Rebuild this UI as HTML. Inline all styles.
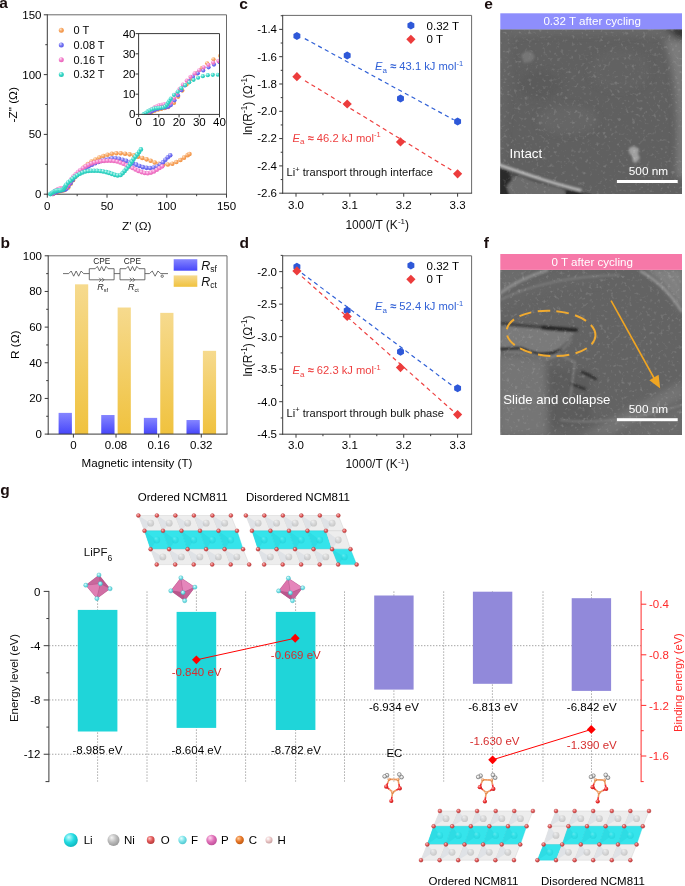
<!DOCTYPE html>
<html><head><meta charset="utf-8"><title>Figure</title><style>html,body{margin:0;padding:0;background:#fff;width:685px;height:886px;overflow:hidden;}svg{display:block;font-family:"Liberation Sans",sans-serif;will-change:transform;}</style></head><body>
<svg width="685" height="886" viewBox="0 0 685 886" font-family="'Liberation Sans', sans-serif"><defs><radialGradient id="gO" cx="0.4" cy="0.35" r="0.65" fx="0.35" fy="0.3"><stop offset="0" stop-color="#fde6cc"/><stop offset="0.55" stop-color="#f7a35e"/><stop offset="1" stop-color="#ef9040"/></radialGradient><radialGradient id="gB" cx="0.4" cy="0.35" r="0.65" fx="0.35" fy="0.3"><stop offset="0" stop-color="#d8d8ff"/><stop offset="0.55" stop-color="#7474f2"/><stop offset="1" stop-color="#5a5ae8"/></radialGradient><radialGradient id="gP" cx="0.4" cy="0.35" r="0.65" fx="0.35" fy="0.3"><stop offset="0" stop-color="#ffe0f4"/><stop offset="0.55" stop-color="#f27ccb"/><stop offset="1" stop-color="#e865b8"/></radialGradient><radialGradient id="gC" cx="0.4" cy="0.35" r="0.65" fx="0.35" fy="0.3"><stop offset="0" stop-color="#d0fbf6"/><stop offset="0.55" stop-color="#3ad8c8"/><stop offset="1" stop-color="#22c4b4"/></radialGradient><clipPath id="clipI"><rect x="138.6" y="33.6" width="80.9" height="80.8"/></clipPath><linearGradient id="gbB" x1="0" y1="0" x2="0" y2="1"><stop offset="0" stop-color="#8585ff"/><stop offset="1" stop-color="#4646fa"/></linearGradient><linearGradient id="gbY" x1="0" y1="0" x2="0" y2="1"><stop offset="0" stop-color="#f6da8e"/><stop offset="1" stop-color="#f0c23e"/></linearGradient><filter id="noise" x="0" y="0" width="100%" height="100%"><feTurbulence type="fractalNoise" baseFrequency="0.28" numOctaves="2" seed="7" result="t"/><feColorMatrix type="matrix" values="0 0 0 0 1  0 0 0 0 1  0 0 0 0 1  4.0 0 0 0 -2.3" /><feGaussianBlur stdDeviation="0.7"/></filter><filter id="blur1"><feGaussianBlur stdDeviation="1.2"/></filter><filter id="blur3"><feGaussianBlur stdDeviation="3"/></filter><clipPath id="clipE"><rect x="500.3" y="29.3" width="181.7" height="164.8"/></clipPath><clipPath id="clipF"><rect x="500.3" y="269.9" width="181.7" height="165.1"/></clipPath><radialGradient id="aLi" cx="0.4" cy="0.35" r="0.65" fx="0.35" fy="0.3"><stop offset="0" stop-color="#c8fbfd"/><stop offset="0.55" stop-color="#22dbe2"/><stop offset="1" stop-color="#10b8c0"/></radialGradient><radialGradient id="aNi" cx="0.4" cy="0.35" r="0.65" fx="0.35" fy="0.3"><stop offset="0" stop-color="#f4f4f4"/><stop offset="0.55" stop-color="#bdbdbd"/><stop offset="1" stop-color="#9a9a9a"/></radialGradient><radialGradient id="aO" cx="0.4" cy="0.35" r="0.65" fx="0.35" fy="0.3"><stop offset="0" stop-color="#ffc8c8"/><stop offset="0.55" stop-color="#e25a5a"/><stop offset="1" stop-color="#b83a3a"/></radialGradient><radialGradient id="aF" cx="0.4" cy="0.35" r="0.65" fx="0.35" fy="0.3"><stop offset="0" stop-color="#e8ffff"/><stop offset="0.55" stop-color="#7ee4ea"/><stop offset="1" stop-color="#50c8d0"/></radialGradient><radialGradient id="aP" cx="0.4" cy="0.35" r="0.65" fx="0.35" fy="0.3"><stop offset="0" stop-color="#ffd8f0"/><stop offset="0.55" stop-color="#e070b8"/><stop offset="1" stop-color="#c0509a"/></radialGradient><radialGradient id="aC" cx="0.4" cy="0.35" r="0.65" fx="0.35" fy="0.3"><stop offset="0" stop-color="#ffd0a0"/><stop offset="0.55" stop-color="#e8782a"/><stop offset="1" stop-color="#c05a10"/></radialGradient><radialGradient id="aH" cx="0.4" cy="0.35" r="0.65" fx="0.35" fy="0.3"><stop offset="0" stop-color="#ffffff"/><stop offset="0.55" stop-color="#ecc8c8"/><stop offset="1" stop-color="#c8a0a0"/></radialGradient><radialGradient id="aOr" cx="0.4" cy="0.35" r="0.65" fx="0.35" fy="0.3"><stop offset="0" stop-color="#ffb0b0"/><stop offset="0.55" stop-color="#ee3030"/><stop offset="1" stop-color="#c01818"/></radialGradient><radialGradient id="aCe" cx="0.4" cy="0.35" r="0.65" fx="0.35" fy="0.3"><stop offset="0" stop-color="#ffe0c8"/><stop offset="0.55" stop-color="#ee9a60"/><stop offset="1" stop-color="#d07838"/></radialGradient><radialGradient id="aHe" cx="0.4" cy="0.35" r="0.65" fx="0.35" fy="0.3"><stop offset="0" stop-color="#ffffff"/><stop offset="0.55" stop-color="#e0e0e0"/><stop offset="1" stop-color="#a8a8a8"/></radialGradient></defs><text x="-0.8" y="8.3" font-size="15.5" fill="#1a0e0e" font-weight="bold">a</text>
<line x1="47.3" y1="14.8" x2="226.5" y2="14.8" stroke="#6a6a6a" stroke-width="1"/>
<line x1="226.5" y1="14.8" x2="226.5" y2="194.2" stroke="#6a6a6a" stroke-width="1"/>
<line x1="47.3" y1="14.3" x2="47.3" y2="194.7" stroke="#3a3a3a" stroke-width="1"/>
<line x1="46.8" y1="194.2" x2="227" y2="194.2" stroke="#3a3a3a" stroke-width="1"/>
<line x1="47.3" y1="194.2" x2="47.3" y2="197.7" stroke="#3a3a3a" stroke-width="1"/>
<line x1="107.03" y1="194.2" x2="107.03" y2="197.7" stroke="#3a3a3a" stroke-width="1"/>
<line x1="166.77" y1="194.2" x2="166.77" y2="197.7" stroke="#3a3a3a" stroke-width="1"/>
<line x1="226.5" y1="194.2" x2="226.5" y2="197.7" stroke="#3a3a3a" stroke-width="1"/>
<line x1="77.17" y1="194.2" x2="77.17" y2="196.2" stroke="#3a3a3a" stroke-width="1"/>
<line x1="136.9" y1="194.2" x2="136.9" y2="196.2" stroke="#3a3a3a" stroke-width="1"/>
<line x1="196.63" y1="194.2" x2="196.63" y2="196.2" stroke="#3a3a3a" stroke-width="1"/>
<text x="47.3" y="210.2" font-size="11.5" text-anchor="middle">0</text>
<text x="107.03" y="210.2" font-size="11.5" text-anchor="middle">50</text>
<text x="166.77" y="210.2" font-size="11.5" text-anchor="middle">100</text>
<text x="226.5" y="210.2" font-size="11.5" text-anchor="middle">150</text>
<line x1="43.8" y1="194.2" x2="47.3" y2="194.2" stroke="#3a3a3a" stroke-width="1"/>
<line x1="43.8" y1="134.4" x2="47.3" y2="134.4" stroke="#3a3a3a" stroke-width="1"/>
<line x1="43.8" y1="74.6" x2="47.3" y2="74.6" stroke="#3a3a3a" stroke-width="1"/>
<line x1="43.8" y1="14.8" x2="47.3" y2="14.8" stroke="#3a3a3a" stroke-width="1"/>
<line x1="45.3" y1="164.3" x2="47.3" y2="164.3" stroke="#3a3a3a" stroke-width="1"/>
<line x1="45.3" y1="104.5" x2="47.3" y2="104.5" stroke="#3a3a3a" stroke-width="1"/>
<line x1="45.3" y1="44.7" x2="47.3" y2="44.7" stroke="#3a3a3a" stroke-width="1"/>
<text x="41.5" y="198.1" font-size="11.5" text-anchor="end">0</text>
<text x="41.5" y="138.3" font-size="11.5" text-anchor="end">50</text>
<text x="41.5" y="78.5" font-size="11.5" text-anchor="end">100</text>
<text x="41.5" y="18.7" font-size="11.5" text-anchor="end">150</text>
<text x="136.8" y="229.5" font-size="11.8" text-anchor="middle">Z' (&#937;)</text>
<text x="16.9" y="104.8" font-size="11.8" text-anchor="middle" transform="rotate(-90 16.9 104.8)">-Z&quot; (&#937;)</text>
<circle cx="53.27" cy="193.84" r="2.3" fill="url(#gO)"/>
<circle cx="54.97" cy="192.87" r="2.3" fill="url(#gO)"/>
<circle cx="56.81" cy="192.06" r="2.3" fill="url(#gO)"/>
<circle cx="58.8" cy="191.41" r="2.3" fill="url(#gO)"/>
<circle cx="60.73" cy="190.94" r="2.3" fill="url(#gO)"/>
<circle cx="62.77" cy="190.45" r="2.3" fill="url(#gO)"/>
<circle cx="64.74" cy="189.89" r="2.3" fill="url(#gO)"/>
<circle cx="68.22" cy="187.39" r="2.3" fill="url(#gO)"/>
<circle cx="70.68" cy="183.79" r="2.3" fill="url(#gO)"/>
<circle cx="73.16" cy="180.11" r="2.3" fill="url(#gO)"/>
<circle cx="75.63" cy="176.54" r="2.3" fill="url(#gO)"/>
<circle cx="78.48" cy="173.06" r="2.3" fill="url(#gO)"/>
<circle cx="81.55" cy="169.95" r="2.3" fill="url(#gO)"/>
<circle cx="84.62" cy="166.85" r="2.3" fill="url(#gO)"/>
<circle cx="87.8" cy="163.95" r="2.3" fill="url(#gO)"/>
<circle cx="91.54" cy="161.56" r="2.3" fill="url(#gO)"/>
<circle cx="95.45" cy="159.5" r="2.3" fill="url(#gO)"/>
<circle cx="99.36" cy="157.59" r="2.3" fill="url(#gO)"/>
<circle cx="103.37" cy="155.98" r="2.3" fill="url(#gO)"/>
<circle cx="107.56" cy="154.72" r="2.3" fill="url(#gO)"/>
<circle cx="111.83" cy="153.81" r="2.3" fill="url(#gO)"/>
<circle cx="116.31" cy="153.32" r="2.3" fill="url(#gO)"/>
<circle cx="120.68" cy="153.24" r="2.3" fill="url(#gO)"/>
<circle cx="125.08" cy="153.68" r="2.3" fill="url(#gO)"/>
<circle cx="129.56" cy="154.35" r="2.3" fill="url(#gO)"/>
<circle cx="133.91" cy="155.26" r="2.3" fill="url(#gO)"/>
<circle cx="138.09" cy="156.65" r="2.3" fill="url(#gO)"/>
<circle cx="142.29" cy="157.93" r="2.3" fill="url(#gO)"/>
<circle cx="146.55" cy="159.34" r="2.3" fill="url(#gO)"/>
<circle cx="150.63" cy="160.81" r="2.3" fill="url(#gO)"/>
<circle cx="154.72" cy="162.55" r="2.3" fill="url(#gO)"/>
<circle cx="158.94" cy="163.78" r="2.3" fill="url(#gO)"/>
<circle cx="163.39" cy="164.54" r="2.3" fill="url(#gO)"/>
<circle cx="167.84" cy="164.55" r="2.3" fill="url(#gO)"/>
<circle cx="172.31" cy="163.69" r="2.3" fill="url(#gO)"/>
<circle cx="176.35" cy="162.04" r="2.3" fill="url(#gO)"/>
<circle cx="180.4" cy="160.05" r="2.3" fill="url(#gO)"/>
<circle cx="184.04" cy="157.66" r="2.3" fill="url(#gO)"/>
<circle cx="187.65" cy="155.17" r="2.3" fill="url(#gO)"/>
<circle cx="189.47" cy="154.01" r="2.3" fill="url(#gO)"/>
<circle cx="52.68" cy="193.84" r="2.3" fill="url(#gB)"/>
<circle cx="54.09" cy="192.96" r="2.3" fill="url(#gB)"/>
<circle cx="55.48" cy="192.2" r="2.3" fill="url(#gB)"/>
<circle cx="56.98" cy="191.5" r="2.3" fill="url(#gB)"/>
<circle cx="58.5" cy="190.95" r="2.3" fill="url(#gB)"/>
<circle cx="60.14" cy="190.55" r="2.3" fill="url(#gB)"/>
<circle cx="61.8" cy="190.25" r="2.3" fill="url(#gB)"/>
<circle cx="63.48" cy="190.02" r="2.3" fill="url(#gB)"/>
<circle cx="64.97" cy="189.55" r="2.3" fill="url(#gB)"/>
<circle cx="66.36" cy="188.66" r="2.3" fill="url(#gB)"/>
<circle cx="68.52" cy="185.85" r="2.3" fill="url(#gB)"/>
<circle cx="70.55" cy="182.93" r="2.3" fill="url(#gB)"/>
<circle cx="72.55" cy="179.91" r="2.3" fill="url(#gB)"/>
<circle cx="74.58" cy="177.1" r="2.3" fill="url(#gB)"/>
<circle cx="76.87" cy="174.37" r="2.3" fill="url(#gB)"/>
<circle cx="79.41" cy="171.84" r="2.3" fill="url(#gB)"/>
<circle cx="82.26" cy="169.85" r="2.3" fill="url(#gB)"/>
<circle cx="85.48" cy="168.19" r="2.3" fill="url(#gB)"/>
<circle cx="88.64" cy="166.33" r="2.3" fill="url(#gB)"/>
<circle cx="91.82" cy="164.71" r="2.3" fill="url(#gB)"/>
<circle cx="95.09" cy="163.32" r="2.3" fill="url(#gB)"/>
<circle cx="98.32" cy="162.06" r="2.3" fill="url(#gB)"/>
<circle cx="101.63" cy="160.83" r="2.3" fill="url(#gB)"/>
<circle cx="104.95" cy="159.8" r="2.3" fill="url(#gB)"/>
<circle cx="108.55" cy="158.96" r="2.3" fill="url(#gB)"/>
<circle cx="111.98" cy="158.39" r="2.3" fill="url(#gB)"/>
<circle cx="115.58" cy="158.23" r="2.3" fill="url(#gB)"/>
<circle cx="119.01" cy="158.78" r="2.3" fill="url(#gB)"/>
<circle cx="122.62" cy="159.73" r="2.3" fill="url(#gB)"/>
<circle cx="126.1" cy="160.83" r="2.3" fill="url(#gB)"/>
<circle cx="129.52" cy="162.04" r="2.3" fill="url(#gB)"/>
<circle cx="132.94" cy="163.36" r="2.3" fill="url(#gB)"/>
<circle cx="136.26" cy="164.67" r="2.3" fill="url(#gB)"/>
<circle cx="139.51" cy="165.93" r="2.3" fill="url(#gB)"/>
<circle cx="142.85" cy="167.14" r="2.3" fill="url(#gB)"/>
<circle cx="146.52" cy="167.84" r="2.3" fill="url(#gB)"/>
<circle cx="150.05" cy="168.03" r="2.3" fill="url(#gB)"/>
<circle cx="153.64" cy="167.56" r="2.3" fill="url(#gB)"/>
<circle cx="157.13" cy="166.48" r="2.3" fill="url(#gB)"/>
<circle cx="160.24" cy="164.6" r="2.3" fill="url(#gB)"/>
<circle cx="162.95" cy="162.35" r="2.3" fill="url(#gB)"/>
<circle cx="165.36" cy="159.78" r="2.3" fill="url(#gB)"/>
<circle cx="167.83" cy="157.24" r="2.3" fill="url(#gB)"/>
<circle cx="170.23" cy="155.21" r="2.3" fill="url(#gB)"/>
<circle cx="52.08" cy="193.84" r="2.3" fill="url(#gP)"/>
<circle cx="53.12" cy="192.8" r="2.3" fill="url(#gP)"/>
<circle cx="54.22" cy="191.78" r="2.3" fill="url(#gP)"/>
<circle cx="55.42" cy="190.87" r="2.3" fill="url(#gP)"/>
<circle cx="56.74" cy="190.08" r="2.3" fill="url(#gP)"/>
<circle cx="58.05" cy="189.42" r="2.3" fill="url(#gP)"/>
<circle cx="59.37" cy="188.9" r="2.3" fill="url(#gP)"/>
<circle cx="60.8" cy="188.5" r="2.3" fill="url(#gP)"/>
<circle cx="62.24" cy="188.27" r="2.3" fill="url(#gP)"/>
<circle cx="63.68" cy="188.17" r="2.3" fill="url(#gP)"/>
<circle cx="65.15" cy="187.8" r="2.3" fill="url(#gP)"/>
<circle cx="66.36" cy="187.1" r="2.3" fill="url(#gP)"/>
<circle cx="68.27" cy="184.49" r="2.3" fill="url(#gP)"/>
<circle cx="69.93" cy="181.77" r="2.3" fill="url(#gP)"/>
<circle cx="71.55" cy="179.07" r="2.3" fill="url(#gP)"/>
<circle cx="73.46" cy="176.57" r="2.3" fill="url(#gP)"/>
<circle cx="75.73" cy="174.23" r="2.3" fill="url(#gP)"/>
<circle cx="77.96" cy="171.94" r="2.3" fill="url(#gP)"/>
<circle cx="80.41" cy="169.95" r="2.3" fill="url(#gP)"/>
<circle cx="83.11" cy="168.06" r="2.3" fill="url(#gP)"/>
<circle cx="85.76" cy="166.34" r="2.3" fill="url(#gP)"/>
<circle cx="88.53" cy="164.83" r="2.3" fill="url(#gP)"/>
<circle cx="91.36" cy="163.51" r="2.3" fill="url(#gP)"/>
<circle cx="94.42" cy="162.51" r="2.3" fill="url(#gP)"/>
<circle cx="97.51" cy="161.77" r="2.3" fill="url(#gP)"/>
<circle cx="100.73" cy="161.23" r="2.3" fill="url(#gP)"/>
<circle cx="104.04" cy="160.88" r="2.3" fill="url(#gP)"/>
<circle cx="107.33" cy="160.69" r="2.3" fill="url(#gP)"/>
<circle cx="110.62" cy="160.71" r="2.3" fill="url(#gP)"/>
<circle cx="113.92" cy="160.98" r="2.3" fill="url(#gP)"/>
<circle cx="117.17" cy="161.57" r="2.3" fill="url(#gP)"/>
<circle cx="120.34" cy="162.57" r="2.3" fill="url(#gP)"/>
<circle cx="123.45" cy="163.82" r="2.3" fill="url(#gP)"/>
<circle cx="126.51" cy="165.29" r="2.3" fill="url(#gP)"/>
<circle cx="129.46" cy="166.66" r="2.3" fill="url(#gP)"/>
<circle cx="132.6" cy="168.07" r="2.3" fill="url(#gP)"/>
<circle cx="135.53" cy="169.46" r="2.3" fill="url(#gP)"/>
<circle cx="138.46" cy="170.9" r="2.3" fill="url(#gP)"/>
<circle cx="141.57" cy="172.11" r="2.3" fill="url(#gP)"/>
<circle cx="144.59" cy="172.95" r="2.3" fill="url(#gP)"/>
<circle cx="147.75" cy="173.3" r="2.3" fill="url(#gP)"/>
<circle cx="150.93" cy="172.59" r="2.3" fill="url(#gP)"/>
<circle cx="153.86" cy="171.48" r="2.3" fill="url(#gP)"/>
<circle cx="156.76" cy="169.78" r="2.3" fill="url(#gP)"/>
<circle cx="159.44" cy="168.04" r="2.3" fill="url(#gP)"/>
<circle cx="162.2" cy="166.33" r="2.3" fill="url(#gP)"/>
<circle cx="50.29" cy="194.08" r="2.3" fill="url(#gC)"/>
<circle cx="51.48" cy="193.22" r="2.3" fill="url(#gC)"/>
<circle cx="52.69" cy="192.45" r="2.3" fill="url(#gC)"/>
<circle cx="53.86" cy="191.78" r="2.3" fill="url(#gC)"/>
<circle cx="55.15" cy="191.16" r="2.3" fill="url(#gC)"/>
<circle cx="56.4" cy="190.77" r="2.3" fill="url(#gC)"/>
<circle cx="57.82" cy="190.5" r="2.3" fill="url(#gC)"/>
<circle cx="59.16" cy="190.3" r="2.3" fill="url(#gC)"/>
<circle cx="60.48" cy="190.14" r="2.3" fill="url(#gC)"/>
<circle cx="61.87" cy="190.01" r="2.3" fill="url(#gC)"/>
<circle cx="63.1" cy="189.43" r="2.3" fill="url(#gC)"/>
<circle cx="64.04" cy="188.43" r="2.3" fill="url(#gC)"/>
<circle cx="64.84" cy="187.28" r="2.3" fill="url(#gC)"/>
<circle cx="65.51" cy="186.12" r="2.3" fill="url(#gC)"/>
<circle cx="66.3" cy="184.87" r="2.3" fill="url(#gC)"/>
<circle cx="68.21" cy="182.6" r="2.3" fill="url(#gC)"/>
<circle cx="70.46" cy="180.72" r="2.3" fill="url(#gC)"/>
<circle cx="72.55" cy="178.68" r="2.3" fill="url(#gC)"/>
<circle cx="74.83" cy="176.86" r="2.3" fill="url(#gC)"/>
<circle cx="77.22" cy="175.24" r="2.3" fill="url(#gC)"/>
<circle cx="79.76" cy="173.71" r="2.3" fill="url(#gC)"/>
<circle cx="82.45" cy="172.49" r="2.3" fill="url(#gC)"/>
<circle cx="85.23" cy="171.55" r="2.3" fill="url(#gC)"/>
<circle cx="88.16" cy="170.98" r="2.3" fill="url(#gC)"/>
<circle cx="91.12" cy="170.78" r="2.3" fill="url(#gC)"/>
<circle cx="94.09" cy="170.73" r="2.3" fill="url(#gC)"/>
<circle cx="97.12" cy="170.81" r="2.3" fill="url(#gC)"/>
<circle cx="100.2" cy="171.01" r="2.3" fill="url(#gC)"/>
<circle cx="103.15" cy="171.46" r="2.3" fill="url(#gC)"/>
<circle cx="106.2" cy="172.11" r="2.3" fill="url(#gC)"/>
<circle cx="109.03" cy="172.92" r="2.3" fill="url(#gC)"/>
<circle cx="111.81" cy="173.87" r="2.3" fill="url(#gC)"/>
<circle cx="114.74" cy="174.86" r="2.3" fill="url(#gC)"/>
<circle cx="117.64" cy="175.44" r="2.3" fill="url(#gC)"/>
<circle cx="120.53" cy="175.06" r="2.3" fill="url(#gC)"/>
<circle cx="122.71" cy="173.11" r="2.3" fill="url(#gC)"/>
<circle cx="124.64" cy="170.9" r="2.3" fill="url(#gC)"/>
<circle cx="126.55" cy="168.69" r="2.3" fill="url(#gC)"/>
<circle cx="128.46" cy="166.28" r="2.3" fill="url(#gC)"/>
<circle cx="130.21" cy="163.91" r="2.3" fill="url(#gC)"/>
<circle cx="131.96" cy="161.39" r="2.3" fill="url(#gC)"/>
<circle cx="133.56" cy="158.97" r="2.3" fill="url(#gC)"/>
<circle cx="135.38" cy="156.67" r="2.3" fill="url(#gC)"/>
<circle cx="137.32" cy="154.36" r="2.3" fill="url(#gC)"/>
<circle cx="139.09" cy="151.94" r="2.3" fill="url(#gC)"/>
<circle cx="140.87" cy="149.41" r="2.3" fill="url(#gC)"/>
<circle cx="61.3" cy="30.3" r="2.5" fill="url(#gO)"/>
<text x="73.6" y="34.3" font-size="11">0 T</text>
<circle cx="61.3" cy="45" r="2.5" fill="url(#gB)"/>
<text x="73.6" y="49" font-size="11">0.08 T</text>
<circle cx="61.3" cy="59.7" r="2.5" fill="url(#gP)"/>
<text x="73.6" y="63.7" font-size="11">0.16 T</text>
<circle cx="61.3" cy="74.4" r="2.5" fill="url(#gC)"/>
<text x="73.6" y="78.4" font-size="11">0.32 T</text>
<rect x="138.6" y="33.6" width="80.9" height="80.8" fill="#fff"/>
<g clip-path="url(#clipI)">
<circle cx="148.71" cy="113.79" r="2.1" fill="url(#gO)"/>
<circle cx="151.58" cy="112.15" r="2.1" fill="url(#gO)"/>
<circle cx="154.71" cy="110.79" r="2.1" fill="url(#gO)"/>
<circle cx="158.07" cy="109.68" r="2.1" fill="url(#gO)"/>
<circle cx="161.34" cy="108.9" r="2.1" fill="url(#gO)"/>
<circle cx="164.79" cy="108.07" r="2.1" fill="url(#gO)"/>
<circle cx="168.13" cy="107.13" r="2.1" fill="url(#gO)"/>
<circle cx="174.02" cy="102.9" r="2.1" fill="url(#gO)"/>
<circle cx="178.18" cy="96.83" r="2.1" fill="url(#gO)"/>
<circle cx="182.37" cy="90.6" r="2.1" fill="url(#gO)"/>
<circle cx="186.57" cy="84.57" r="2.1" fill="url(#gO)"/>
<circle cx="191.39" cy="78.7" r="2.1" fill="url(#gO)"/>
<circle cx="196.58" cy="73.44" r="2.1" fill="url(#gO)"/>
<circle cx="201.77" cy="68.21" r="2.1" fill="url(#gO)"/>
<circle cx="207.16" cy="63.31" r="2.1" fill="url(#gO)"/>
<circle cx="213.5" cy="59.27" r="2.1" fill="url(#gO)"/>
<circle cx="220.12" cy="55.8" r="2.1" fill="url(#gO)"/>
<circle cx="147.7" cy="113.79" r="2.1" fill="url(#gB)"/>
<circle cx="150.09" cy="112.3" r="2.1" fill="url(#gB)"/>
<circle cx="152.45" cy="111.02" r="2.1" fill="url(#gB)"/>
<circle cx="154.99" cy="109.84" r="2.1" fill="url(#gB)"/>
<circle cx="157.56" cy="108.91" r="2.1" fill="url(#gB)"/>
<circle cx="160.34" cy="108.24" r="2.1" fill="url(#gB)"/>
<circle cx="163.16" cy="107.73" r="2.1" fill="url(#gB)"/>
<circle cx="165.99" cy="107.35" r="2.1" fill="url(#gB)"/>
<circle cx="168.51" cy="106.55" r="2.1" fill="url(#gB)"/>
<circle cx="170.87" cy="105.03" r="2.1" fill="url(#gB)"/>
<circle cx="174.52" cy="100.3" r="2.1" fill="url(#gB)"/>
<circle cx="177.97" cy="95.36" r="2.1" fill="url(#gB)"/>
<circle cx="181.35" cy="90.27" r="2.1" fill="url(#gB)"/>
<circle cx="184.79" cy="85.51" r="2.1" fill="url(#gB)"/>
<circle cx="188.66" cy="80.91" r="2.1" fill="url(#gB)"/>
<circle cx="192.95" cy="76.64" r="2.1" fill="url(#gB)"/>
<circle cx="197.78" cy="73.28" r="2.1" fill="url(#gB)"/>
<circle cx="203.24" cy="70.47" r="2.1" fill="url(#gB)"/>
<circle cx="208.58" cy="67.33" r="2.1" fill="url(#gB)"/>
<circle cx="213.96" cy="64.6" r="2.1" fill="url(#gB)"/>
<circle cx="219.5" cy="62.24" r="2.1" fill="url(#gB)"/>
<circle cx="224.97" cy="60.12" r="2.1" fill="url(#gB)"/>
<circle cx="146.69" cy="113.79" r="2.1" fill="url(#gP)"/>
<circle cx="148.46" cy="112.04" r="2.1" fill="url(#gP)"/>
<circle cx="150.31" cy="110.31" r="2.1" fill="url(#gP)"/>
<circle cx="152.35" cy="108.78" r="2.1" fill="url(#gP)"/>
<circle cx="154.58" cy="107.44" r="2.1" fill="url(#gP)"/>
<circle cx="156.8" cy="106.32" r="2.1" fill="url(#gP)"/>
<circle cx="159.03" cy="105.44" r="2.1" fill="url(#gP)"/>
<circle cx="161.45" cy="104.78" r="2.1" fill="url(#gP)"/>
<circle cx="163.89" cy="104.38" r="2.1" fill="url(#gP)"/>
<circle cx="166.33" cy="104.21" r="2.1" fill="url(#gP)"/>
<circle cx="168.81" cy="103.59" r="2.1" fill="url(#gP)"/>
<circle cx="170.87" cy="102.41" r="2.1" fill="url(#gP)"/>
<circle cx="174.09" cy="98" r="2.1" fill="url(#gP)"/>
<circle cx="176.92" cy="93.41" r="2.1" fill="url(#gP)"/>
<circle cx="179.65" cy="88.84" r="2.1" fill="url(#gP)"/>
<circle cx="182.88" cy="84.63" r="2.1" fill="url(#gP)"/>
<circle cx="186.74" cy="80.67" r="2.1" fill="url(#gP)"/>
<circle cx="190.5" cy="76.8" r="2.1" fill="url(#gP)"/>
<circle cx="194.65" cy="73.44" r="2.1" fill="url(#gP)"/>
<circle cx="199.22" cy="70.24" r="2.1" fill="url(#gP)"/>
<circle cx="203.7" cy="67.35" r="2.1" fill="url(#gP)"/>
<circle cx="208.39" cy="64.79" r="2.1" fill="url(#gP)"/>
<circle cx="213.19" cy="62.56" r="2.1" fill="url(#gP)"/>
<circle cx="218.37" cy="60.87" r="2.1" fill="url(#gP)"/>
<circle cx="223.61" cy="59.63" r="2.1" fill="url(#gP)"/>
<circle cx="143.66" cy="114.2" r="2.1" fill="url(#gC)"/>
<circle cx="145.68" cy="112.75" r="2.1" fill="url(#gC)"/>
<circle cx="147.73" cy="111.44" r="2.1" fill="url(#gC)"/>
<circle cx="149.7" cy="110.31" r="2.1" fill="url(#gC)"/>
<circle cx="151.89" cy="109.26" r="2.1" fill="url(#gC)"/>
<circle cx="154.01" cy="108.6" r="2.1" fill="url(#gC)"/>
<circle cx="156.41" cy="108.15" r="2.1" fill="url(#gC)"/>
<circle cx="158.68" cy="107.82" r="2.1" fill="url(#gC)"/>
<circle cx="160.92" cy="107.54" r="2.1" fill="url(#gC)"/>
<circle cx="163.27" cy="107.33" r="2.1" fill="url(#gC)"/>
<circle cx="165.34" cy="106.34" r="2.1" fill="url(#gC)"/>
<circle cx="166.94" cy="104.65" r="2.1" fill="url(#gC)"/>
<circle cx="168.29" cy="102.72" r="2.1" fill="url(#gC)"/>
<circle cx="169.43" cy="100.76" r="2.1" fill="url(#gC)"/>
<circle cx="170.76" cy="98.64" r="2.1" fill="url(#gC)"/>
<circle cx="173.99" cy="94.81" r="2.1" fill="url(#gC)"/>
<circle cx="177.81" cy="91.63" r="2.1" fill="url(#gC)"/>
<circle cx="181.35" cy="88.18" r="2.1" fill="url(#gC)"/>
<circle cx="185.2" cy="85.11" r="2.1" fill="url(#gC)"/>
<circle cx="189.25" cy="82.37" r="2.1" fill="url(#gC)"/>
<circle cx="193.56" cy="79.79" r="2.1" fill="url(#gC)"/>
<circle cx="198.1" cy="77.73" r="2.1" fill="url(#gC)"/>
<circle cx="202.81" cy="76.15" r="2.1" fill="url(#gC)"/>
<circle cx="207.78" cy="75.18" r="2.1" fill="url(#gC)"/>
<circle cx="212.78" cy="74.85" r="2.1" fill="url(#gC)"/>
<circle cx="217.82" cy="74.76" r="2.1" fill="url(#gC)"/>
<circle cx="222.94" cy="74.9" r="2.1" fill="url(#gC)"/>
</g>
<line x1="138.6" y1="33.6" x2="219.5" y2="33.6" stroke="#3a3a3a" stroke-width="1"/>
<line x1="219.5" y1="33.6" x2="219.5" y2="114.4" stroke="#3a3a3a" stroke-width="1"/>
<line x1="138.6" y1="33.1" x2="138.6" y2="114.9" stroke="#3a3a3a" stroke-width="1"/>
<line x1="138.1" y1="114.4" x2="220" y2="114.4" stroke="#3a3a3a" stroke-width="1"/>
<line x1="138.6" y1="114.4" x2="138.6" y2="117.4" stroke="#3a3a3a" stroke-width="1"/>
<line x1="158.82" y1="114.4" x2="158.82" y2="117.4" stroke="#3a3a3a" stroke-width="1"/>
<line x1="179.05" y1="114.4" x2="179.05" y2="117.4" stroke="#3a3a3a" stroke-width="1"/>
<line x1="199.28" y1="114.4" x2="199.28" y2="117.4" stroke="#3a3a3a" stroke-width="1"/>
<line x1="219.5" y1="114.4" x2="219.5" y2="117.4" stroke="#3a3a3a" stroke-width="1"/>
<text x="138.6" y="126" font-size="11.5" text-anchor="middle">0</text>
<text x="158.82" y="126" font-size="11.5" text-anchor="middle">10</text>
<text x="179.05" y="126" font-size="11.5" text-anchor="middle">20</text>
<text x="199.28" y="126" font-size="11.5" text-anchor="middle">30</text>
<text x="219.5" y="126" font-size="11.5" text-anchor="middle">40</text>
<line x1="135.6" y1="114.4" x2="138.6" y2="114.4" stroke="#3a3a3a" stroke-width="1"/>
<line x1="135.6" y1="94.2" x2="138.6" y2="94.2" stroke="#3a3a3a" stroke-width="1"/>
<line x1="135.6" y1="74" x2="138.6" y2="74" stroke="#3a3a3a" stroke-width="1"/>
<line x1="135.6" y1="53.8" x2="138.6" y2="53.8" stroke="#3a3a3a" stroke-width="1"/>
<line x1="135.6" y1="33.6" x2="138.6" y2="33.6" stroke="#3a3a3a" stroke-width="1"/>
<text x="135.5" y="118.3" font-size="11.5" text-anchor="end">0</text>
<text x="135.5" y="98.1" font-size="11.5" text-anchor="end">10</text>
<text x="135.5" y="77.9" font-size="11.5" text-anchor="end">20</text>
<text x="135.5" y="57.7" font-size="11.5" text-anchor="end">30</text>
<text x="135.5" y="37.5" font-size="11.5" text-anchor="end">40</text>
<text x="0.4" y="247.5" font-size="15.5" fill="#1a0e0e" font-weight="bold">b</text>
<rect x="58.6" y="412.88" width="13.3" height="21.22" fill="url(#gbB)"/>
<rect x="75" y="284.33" width="13.2" height="149.77" fill="url(#gbY)"/>
<rect x="101.23" y="415.02" width="13.3" height="19.08" fill="url(#gbB)"/>
<rect x="117.63" y="307.51" width="13.2" height="126.59" fill="url(#gbY)"/>
<rect x="143.86" y="417.87" width="13.3" height="16.23" fill="url(#gbB)"/>
<rect x="160.26" y="312.86" width="13.2" height="121.24" fill="url(#gbY)"/>
<rect x="186.49" y="420.01" width="13.3" height="14.09" fill="url(#gbB)"/>
<rect x="202.89" y="350.83" width="13.2" height="83.27" fill="url(#gbY)"/>
<line x1="48.2" y1="255.8" x2="227" y2="255.8" stroke="#6a6a6a" stroke-width="1"/>
<line x1="227" y1="255.8" x2="227" y2="434.1" stroke="#6a6a6a" stroke-width="1"/>
<line x1="48.2" y1="255.3" x2="48.2" y2="434.6" stroke="#3a3a3a" stroke-width="1"/>
<line x1="47.7" y1="434.1" x2="227.5" y2="434.1" stroke="#3a3a3a" stroke-width="1"/>
<line x1="73.4" y1="434.1" x2="73.4" y2="437.6" stroke="#3a3a3a" stroke-width="1"/>
<line x1="116.03" y1="434.1" x2="116.03" y2="437.6" stroke="#3a3a3a" stroke-width="1"/>
<line x1="158.66" y1="434.1" x2="158.66" y2="437.6" stroke="#3a3a3a" stroke-width="1"/>
<line x1="201.29" y1="434.1" x2="201.29" y2="437.6" stroke="#3a3a3a" stroke-width="1"/>
<text x="73.4" y="448.5" font-size="11.5" text-anchor="middle">0</text>
<text x="116.03" y="448.5" font-size="11.5" text-anchor="middle">0.08</text>
<text x="158.66" y="448.5" font-size="11.5" text-anchor="middle">0.16</text>
<text x="201.29" y="448.5" font-size="11.5" text-anchor="middle">0.32</text>
<line x1="44.7" y1="434.1" x2="48.2" y2="434.1" stroke="#3a3a3a" stroke-width="1"/>
<line x1="44.7" y1="398.44" x2="48.2" y2="398.44" stroke="#3a3a3a" stroke-width="1"/>
<line x1="44.7" y1="362.78" x2="48.2" y2="362.78" stroke="#3a3a3a" stroke-width="1"/>
<line x1="44.7" y1="327.12" x2="48.2" y2="327.12" stroke="#3a3a3a" stroke-width="1"/>
<line x1="44.7" y1="291.46" x2="48.2" y2="291.46" stroke="#3a3a3a" stroke-width="1"/>
<line x1="44.7" y1="255.8" x2="48.2" y2="255.8" stroke="#3a3a3a" stroke-width="1"/>
<line x1="46.2" y1="416.27" x2="48.2" y2="416.27" stroke="#3a3a3a" stroke-width="1"/>
<line x1="46.2" y1="380.61" x2="48.2" y2="380.61" stroke="#3a3a3a" stroke-width="1"/>
<line x1="46.2" y1="344.95" x2="48.2" y2="344.95" stroke="#3a3a3a" stroke-width="1"/>
<line x1="46.2" y1="309.29" x2="48.2" y2="309.29" stroke="#3a3a3a" stroke-width="1"/>
<line x1="46.2" y1="273.63" x2="48.2" y2="273.63" stroke="#3a3a3a" stroke-width="1"/>
<text x="42" y="438" font-size="11.5" text-anchor="end">0</text>
<text x="42" y="402.34" font-size="11.5" text-anchor="end">20</text>
<text x="42" y="366.68" font-size="11.5" text-anchor="end">40</text>
<text x="42" y="331.02" font-size="11.5" text-anchor="end">60</text>
<text x="42" y="295.36" font-size="11.5" text-anchor="end">80</text>
<text x="42" y="259.7" font-size="11.5" text-anchor="end">100</text>
<text x="137" y="466.5" font-size="11.6" text-anchor="middle">Magnetic intensity (T)</text>
<text x="18.7" y="344.8" font-size="11.8" text-anchor="middle" transform="rotate(-90 18.7 344.8)">R (&#937;)</text>
<rect x="173.7" y="259.2" width="23.6" height="11.5" fill="url(#gbB)"/>
<rect x="173.7" y="275.4" width="23.6" height="11.4" fill="url(#gbY)"/>
<text x="201.3" y="269.8" font-size="12.5" font-style="italic" fill="#111">R<tspan font-size="8.5" dy="2.5" font-style="normal">sf</tspan></text>
<text x="201.3" y="285.8" font-size="12.5" font-style="italic" fill="#111">R<tspan font-size="8.5" dy="2.5" font-style="normal">ct</tspan></text>
<g fill="none" stroke="#4a4a4a" stroke-width="0.8"><polyline points="63,273.6 68.7,273.6" /><polyline points="68.7,273.6 71.18,271 73.67,276.2 76.15,271 78.63,276.2 81.12,271 83.6,273.6" /><polyline points="83.6,273.6 89.3,273.6" /><polyline points="89.3,268.7 89.3,279.8" /><polyline points="114.1,268.7 114.1,279.8" /><polyline points="89.3,268.7 95.2,268.7" /><polyline points="95.2,268.7 97.37,266.4 99.53,271 101.7,266.4 103.87,271 106.03,266.4 108.2,268.7" /><polyline points="108.2,268.7 114.1,268.7" /><polyline points="89.3,279.8 114.1,279.8" /><polyline points="99.2,277.8 101.2,279.8 99.2,281.8" /><polyline points="102,277.8 104,279.8 102,281.8" /><polyline points="120,268.7 120,279.8" /><polyline points="144.9,268.7 144.9,279.8" /><polyline points="120,268.7 125.95,268.7" /><polyline points="125.95,268.7 128.12,266.4 130.28,271 132.45,266.4 134.62,271 136.78,266.4 138.95,268.7" /><polyline points="138.95,268.7 144.9,268.7" /><polyline points="120,279.8 144.9,279.8" /><polyline points="129.95,277.8 131.95,279.8 129.95,281.8" /><polyline points="132.75,277.8 134.75,279.8 132.75,281.8" /><polyline points="114.1,273.6 120,273.6" /><polyline points="144.9,273.6 149.4,273.6" /><polyline points="149.4,273.6 152.25,271 155.1,276.2 157.95,271 160.8,273.6" /><circle cx="162.2" cy="276.2" r="1.2" /><polyline points="160.8,273.6 168,273.6" /></g>
<text x="101.7" y="264" font-size="8.3" text-anchor="middle" fill="#222">CPE</text>
<text x="132.4" y="264" font-size="8.3" text-anchor="middle" fill="#222">CPE</text>
<text x="97.3" y="290" font-size="9" font-style="italic" fill="#222">R<tspan font-size="5.5" dy="1.5" font-style="normal">sf</tspan></text>
<text x="128" y="290" font-size="9" font-style="italic" fill="#222">R<tspan font-size="5.5" dy="1.5" font-style="normal">ct</tspan></text>
<text x="239.3" y="9" font-size="15.5" fill="#1a0e0e" font-weight="bold">c</text>
<line x1="282.7" y1="15.4" x2="471.6" y2="15.4" stroke="#6a6a6a" stroke-width="1"/>
<line x1="471.6" y1="15.4" x2="471.6" y2="193.2" stroke="#6a6a6a" stroke-width="1"/>
<line x1="282.7" y1="14.9" x2="282.7" y2="193.7" stroke="#3a3a3a" stroke-width="1"/>
<line x1="282.2" y1="193.2" x2="472.1" y2="193.2" stroke="#3a3a3a" stroke-width="1"/>
<line x1="296" y1="193.2" x2="296" y2="196.7" stroke="#3a3a3a" stroke-width="1"/>
<line x1="349.87" y1="193.2" x2="349.87" y2="196.7" stroke="#3a3a3a" stroke-width="1"/>
<line x1="403.73" y1="193.2" x2="403.73" y2="196.7" stroke="#3a3a3a" stroke-width="1"/>
<line x1="457.6" y1="193.2" x2="457.6" y2="196.7" stroke="#3a3a3a" stroke-width="1"/>
<line x1="322.94" y1="193.2" x2="322.94" y2="195.2" stroke="#3a3a3a" stroke-width="1"/>
<line x1="376.8" y1="193.2" x2="376.8" y2="195.2" stroke="#3a3a3a" stroke-width="1"/>
<line x1="430.66" y1="193.2" x2="430.66" y2="195.2" stroke="#3a3a3a" stroke-width="1"/>
<text x="296" y="208.6" font-size="11.5" text-anchor="middle">3.0</text>
<text x="349.87" y="208.6" font-size="11.5" text-anchor="middle">3.1</text>
<text x="403.73" y="208.6" font-size="11.5" text-anchor="middle">3.2</text>
<text x="457.6" y="208.6" font-size="11.5" text-anchor="middle">3.3</text>
<line x1="279.2" y1="193.2" x2="282.7" y2="193.2" stroke="#3a3a3a" stroke-width="1"/>
<line x1="279.2" y1="165.9" x2="282.7" y2="165.9" stroke="#3a3a3a" stroke-width="1"/>
<line x1="279.2" y1="138.59" x2="282.7" y2="138.59" stroke="#3a3a3a" stroke-width="1"/>
<line x1="279.2" y1="111.29" x2="282.7" y2="111.29" stroke="#3a3a3a" stroke-width="1"/>
<line x1="279.2" y1="83.99" x2="282.7" y2="83.99" stroke="#3a3a3a" stroke-width="1"/>
<line x1="279.2" y1="56.68" x2="282.7" y2="56.68" stroke="#3a3a3a" stroke-width="1"/>
<line x1="279.2" y1="29.38" x2="282.7" y2="29.38" stroke="#3a3a3a" stroke-width="1"/>
<line x1="280.7" y1="179.55" x2="282.7" y2="179.55" stroke="#3a3a3a" stroke-width="1"/>
<line x1="280.7" y1="152.24" x2="282.7" y2="152.24" stroke="#3a3a3a" stroke-width="1"/>
<line x1="280.7" y1="124.94" x2="282.7" y2="124.94" stroke="#3a3a3a" stroke-width="1"/>
<line x1="280.7" y1="97.64" x2="282.7" y2="97.64" stroke="#3a3a3a" stroke-width="1"/>
<line x1="280.7" y1="70.33" x2="282.7" y2="70.33" stroke="#3a3a3a" stroke-width="1"/>
<line x1="280.7" y1="43.03" x2="282.7" y2="43.03" stroke="#3a3a3a" stroke-width="1"/>
<line x1="280.7" y1="15.73" x2="282.7" y2="15.73" stroke="#3a3a3a" stroke-width="1"/>
<text x="277" y="197.1" font-size="11.5" text-anchor="end">-2.6</text>
<text x="277" y="169.8" font-size="11.5" text-anchor="end">-2.4</text>
<text x="277" y="142.49" font-size="11.5" text-anchor="end">-2.2</text>
<text x="277" y="115.19" font-size="11.5" text-anchor="end">-2.0</text>
<text x="277" y="87.89" font-size="11.5" text-anchor="end">-1.8</text>
<text x="277" y="60.58" font-size="11.5" text-anchor="end">-1.6</text>
<text x="277" y="33.28" font-size="11.5" text-anchor="end">-1.4</text>
<line x1="304.8" y1="38.6" x2="453.7" y2="119.8" stroke="#3060d6" stroke-width="1.2" stroke-dasharray="4.2 3.4"/>
<line x1="305" y1="80.7" x2="453.5" y2="171.4" stroke="#ee4040" stroke-width="1.2" stroke-dasharray="4.2 3.4"/>
<polygon points="296.9,32.1 293.44,34.1 293.44,38.1 296.9,40.1 300.36,38.1 300.36,34.1" fill="#2e58d8"/>
<polygon points="347.2,51.4 343.74,53.4 343.74,57.4 347.2,59.4 350.66,57.4 350.66,53.4" fill="#2e58d8"/>
<polygon points="400.5,94.5 397.04,96.5 397.04,100.5 400.5,102.5 403.96,100.5 403.96,96.5" fill="#2e58d8"/>
<polygon points="457.6,117.6 454.14,119.6 454.14,123.6 457.6,125.6 461.06,123.6 461.06,119.6" fill="#2e58d8"/>
<polygon points="296.9,72.1 301.5,76.7 296.9,81.3 292.3,76.7" fill="#ec3c3c"/>
<polygon points="347.2,99.4 351.8,104 347.2,108.6 342.6,104" fill="#ec3c3c"/>
<polygon points="400.5,137.3 405.1,141.9 400.5,146.5 395.9,141.9" fill="#ec3c3c"/>
<polygon points="457.6,169.2 462.2,173.8 457.6,178.4 453,173.8" fill="#ec3c3c"/>
<text x="375.1" y="69.9" font-size="11.2" fill="#3060d6"><tspan font-style="italic">E</tspan><tspan font-size="8" dy="2.6">a</tspan><tspan dy="-2.6"> </tspan><tspan font-weight="bold">&#8776;</tspan><tspan> 43.1 kJ mol</tspan><tspan font-size="7.5" dy="-4.2">-1</tspan></text>
<text x="292.6" y="141.6" font-size="11.2" fill="#ee4040"><tspan font-style="italic">E</tspan><tspan font-size="8" dy="2.6">a</tspan><tspan dy="-2.6"> </tspan><tspan font-weight="bold">&#8776;</tspan><tspan> 46.2 kJ mol</tspan><tspan font-size="7.5" dy="-4.2">-1</tspan></text>
<text x="286.6" y="176.4" font-size="11.1" fill="#111">Li<tspan font-size="7.5" dy="-4.2">+</tspan><tspan dy="4.2"> transport through interface</tspan></text>
<polygon points="410.9,21.6 407.44,23.6 407.44,27.6 410.9,29.6 414.36,27.6 414.36,23.6" fill="#2e58d8"/>
<text x="426.6" y="29.6" font-size="11.5">0.32 T</text>
<polygon points="410.9,34.7 415.5,39.3 410.9,43.9 406.3,39.3" fill="#ec3c3c"/>
<text x="426.6" y="43.3" font-size="11.5">0 T</text>
<text x="377.2" y="228.8" font-size="12" fill="#111" text-anchor="middle">1000/T (K<tspan font-size="8" dy="-4.8">-1</tspan><tspan dy="4.8">)</tspan></text>
<text x="0" y="0" font-size="12" fill="#111" text-anchor="middle" transform="translate(252.2 104.5) rotate(-90)">ln(R<tspan font-size="8.4" dy="-5">-1</tspan><tspan dy="5">) (&#937;</tspan><tspan font-size="8.4" dy="-5">-1</tspan><tspan dy="5">)</tspan></text>
<text x="239.4" y="247.6" font-size="15.5" fill="#1a0e0e" font-weight="bold">d</text>
<line x1="282.7" y1="255.8" x2="471.6" y2="255.8" stroke="#6a6a6a" stroke-width="1"/>
<line x1="471.6" y1="255.8" x2="471.6" y2="434.2" stroke="#6a6a6a" stroke-width="1"/>
<line x1="282.7" y1="255.3" x2="282.7" y2="434.7" stroke="#3a3a3a" stroke-width="1"/>
<line x1="282.2" y1="434.2" x2="472.1" y2="434.2" stroke="#3a3a3a" stroke-width="1"/>
<line x1="296" y1="434.2" x2="296" y2="437.7" stroke="#3a3a3a" stroke-width="1"/>
<line x1="349.87" y1="434.2" x2="349.87" y2="437.7" stroke="#3a3a3a" stroke-width="1"/>
<line x1="403.73" y1="434.2" x2="403.73" y2="437.7" stroke="#3a3a3a" stroke-width="1"/>
<line x1="457.6" y1="434.2" x2="457.6" y2="437.7" stroke="#3a3a3a" stroke-width="1"/>
<line x1="322.94" y1="434.2" x2="322.94" y2="436.2" stroke="#3a3a3a" stroke-width="1"/>
<line x1="376.8" y1="434.2" x2="376.8" y2="436.2" stroke="#3a3a3a" stroke-width="1"/>
<line x1="430.66" y1="434.2" x2="430.66" y2="436.2" stroke="#3a3a3a" stroke-width="1"/>
<text x="296" y="449.2" font-size="11.5" text-anchor="middle">3.0</text>
<text x="349.87" y="449.2" font-size="11.5" text-anchor="middle">3.1</text>
<text x="403.73" y="449.2" font-size="11.5" text-anchor="middle">3.2</text>
<text x="457.6" y="449.2" font-size="11.5" text-anchor="middle">3.3</text>
<line x1="279.2" y1="434.2" x2="282.7" y2="434.2" stroke="#3a3a3a" stroke-width="1"/>
<line x1="279.2" y1="401.69" x2="282.7" y2="401.69" stroke="#3a3a3a" stroke-width="1"/>
<line x1="279.2" y1="369.17" x2="282.7" y2="369.17" stroke="#3a3a3a" stroke-width="1"/>
<line x1="279.2" y1="336.66" x2="282.7" y2="336.66" stroke="#3a3a3a" stroke-width="1"/>
<line x1="279.2" y1="304.15" x2="282.7" y2="304.15" stroke="#3a3a3a" stroke-width="1"/>
<line x1="279.2" y1="271.63" x2="282.7" y2="271.63" stroke="#3a3a3a" stroke-width="1"/>
<line x1="280.7" y1="417.94" x2="282.7" y2="417.94" stroke="#3a3a3a" stroke-width="1"/>
<line x1="280.7" y1="385.43" x2="282.7" y2="385.43" stroke="#3a3a3a" stroke-width="1"/>
<line x1="280.7" y1="352.92" x2="282.7" y2="352.92" stroke="#3a3a3a" stroke-width="1"/>
<line x1="280.7" y1="320.4" x2="282.7" y2="320.4" stroke="#3a3a3a" stroke-width="1"/>
<line x1="280.7" y1="287.89" x2="282.7" y2="287.89" stroke="#3a3a3a" stroke-width="1"/>
<line x1="280.7" y1="255.38" x2="282.7" y2="255.38" stroke="#3a3a3a" stroke-width="1"/>
<text x="277" y="438.1" font-size="11.5" text-anchor="end">-4.5</text>
<text x="277" y="405.59" font-size="11.5" text-anchor="end">-4.0</text>
<text x="277" y="373.07" font-size="11.5" text-anchor="end">-3.5</text>
<text x="277" y="340.56" font-size="11.5" text-anchor="end">-3.0</text>
<text x="277" y="308.05" font-size="11.5" text-anchor="end">-2.5</text>
<text x="277" y="275.53" font-size="11.5" text-anchor="end">-2.0</text>
<line x1="302" y1="273.2" x2="453.5" y2="386.6" stroke="#3060d6" stroke-width="1.2" stroke-dasharray="4.2 3.4"/>
<line x1="302" y1="276.6" x2="453.5" y2="411.5" stroke="#ee4040" stroke-width="1.2" stroke-dasharray="4.2 3.4"/>
<polygon points="296.9,262.7 293.44,264.7 293.44,268.7 296.9,270.7 300.36,268.7 300.36,264.7" fill="#2e58d8"/>
<polygon points="347.2,306.5 343.74,308.5 343.74,312.5 347.2,314.5 350.66,312.5 350.66,308.5" fill="#2e58d8"/>
<polygon points="400.5,347.8 397.04,349.8 397.04,353.8 400.5,355.8 403.96,353.8 403.96,349.8" fill="#2e58d8"/>
<polygon points="457.6,384.3 454.14,386.3 454.14,390.3 457.6,392.3 461.06,390.3 461.06,386.3" fill="#2e58d8"/>
<polygon points="296.9,266.3 301.5,270.9 296.9,275.5 292.3,270.9" fill="#ec3c3c"/>
<polygon points="347.2,311.9 351.8,316.5 347.2,321.1 342.6,316.5" fill="#ec3c3c"/>
<polygon points="400.5,363 405.1,367.6 400.5,372.2 395.9,367.6" fill="#ec3c3c"/>
<polygon points="457.6,410 462.2,414.6 457.6,419.2 453,414.6" fill="#ec3c3c"/>
<text x="375.1" y="310.2" font-size="11.2" fill="#3060d6"><tspan font-style="italic">E</tspan><tspan font-size="8" dy="2.6">a</tspan><tspan dy="-2.6"> </tspan><tspan font-weight="bold">&#8776;</tspan><tspan> 52.4 kJ mol</tspan><tspan font-size="7.5" dy="-4.2">-1</tspan></text>
<text x="292.6" y="374.3" font-size="11.2" fill="#ee4040"><tspan font-style="italic">E</tspan><tspan font-size="8" dy="2.6">a</tspan><tspan dy="-2.6"> </tspan><tspan font-weight="bold">&#8776;</tspan><tspan> 62.3 kJ mol</tspan><tspan font-size="7.5" dy="-4.2">-1</tspan></text>
<text x="286.6" y="416.6" font-size="11.1" fill="#111">Li<tspan font-size="7.5" dy="-4.2">+</tspan><tspan dy="4.2"> transport through bulk phase</tspan></text>
<polygon points="410.9,261.6 407.44,263.6 407.44,267.6 410.9,269.6 414.36,267.6 414.36,263.6" fill="#2e58d8"/>
<text x="426.6" y="269.6" font-size="11.5">0.32 T</text>
<polygon points="410.9,274.7 415.5,279.3 410.9,283.9 406.3,279.3" fill="#ec3c3c"/>
<text x="426.6" y="283.3" font-size="11.5">0 T</text>
<text x="377.2" y="468.4" font-size="12" fill="#111" text-anchor="middle">1000/T (K<tspan font-size="8" dy="-4.8">-1</tspan><tspan dy="4.8">)</tspan></text>
<text x="0" y="0" font-size="12" fill="#111" text-anchor="middle" transform="translate(252.2 346) rotate(-90)">ln(R<tspan font-size="8.4" dy="-5">-1</tspan><tspan dy="5">) (&#937;</tspan><tspan font-size="8.4" dy="-5">-1</tspan><tspan dy="5">)</tspan></text>
<text x="484.2" y="8.8" font-size="15.5" fill="#1a0e0e" font-weight="bold">e</text>
<g clip-path="url(#clipE)">
<rect x="500.3" y="29.3" width="181.7" height="164.8" fill="#606060"/>
<g filter="url(#blur3)">
<path d="M498,28 L684,28 L684,38 C640,33 560,33 498,36 Z" fill="#6c6c6c" opacity="0.9"/>
<path d="M662,27 L686,27 L686,46 C678,36 670,31 662,27 Z" fill="#333"/>
<path d="M664,40 C676,70 679,120 676,175 L686,180 L686,40 Z" fill="#7c7c7c"/>
<path d="M498,30 L512,30 C508,80 506,130 503,160 L498,165 Z" fill="#666" opacity="0.8"/>
<ellipse cx="568" cy="120" rx="30" ry="14" fill="#686868" opacity="0.8"/>
<ellipse cx="540" cy="85" rx="22" ry="14" fill="#5a5a5a" opacity="0.7"/>
<ellipse cx="620" cy="70" rx="30" ry="20" fill="#646464" opacity="0.7"/>
</g>
<path d="M498,165 C515,171 530,176 542.7,180.2 C555,184 568,188 581.4,191 L600,196 L498,196 Z" fill="#4e4e4e"/>
<g filter="url(#blur1)">
<path d="M510,178 L520,176 L535,182 L560,188 L575,196 L505,196 Z" fill="#6c6c6c"/>
<path d="M498,168 L508,170 L512,180 L506,186 L510,196 L498,196 Z" fill="#2c2c2c"/>
<path d="M566,190 L580,191 L584,196 L564,196 Z" fill="#2c2c2c"/>
<path d="M498,164.5 C515,170.5 530,175.5 542.7,179.7 C555,183.5 568,187.5 581.4,190.5" fill="none" stroke="#b8b8b8" stroke-width="3"/>
<path d="M629,148 l5,-2 l5,3 l-1,5 l2,4 l-4,5 l-3,-1 l-1,-6 l-3,-3 z" fill="#a0a0a0"/>
<path d="M521,55 l5,-4 l6,1 l3,5 l-4,5 l-7,1 z" fill="#767676"/>
</g>
<rect x="500.3" y="29.3" width="181.7" height="164.8" fill="#000" filter="url(#noise)" opacity="0.14"/>
</g>
<rect x="500.3" y="13.3" width="181.7" height="16" fill="#8e8efc"/>
<text x="592.2" y="25.2" font-size="11.6" text-anchor="middle" fill="#fff">0.32 T after cycling</text>
<text x="509.5" y="157.6" font-size="13.4" fill="#fff">Intact</text>
<text x="628.8" y="175.1" font-size="11.8" fill="#fff">500 nm</text>
<rect x="616.9" y="180" width="60.8" height="3" fill="#fff"/>
<text x="483.8" y="247.5" font-size="15.5" fill="#1a0e0e" font-weight="bold">f</text>
<g clip-path="url(#clipF)">
<rect x="500.3" y="269.9" width="181.7" height="165.1" fill="#636363"/>
<g filter="url(#blur3)">
<path d="M498,268 L545,268 C530,274 512,284 498,296 Z" fill="#6c6c6c"/>
<path d="M498,300 C515,288 535,278 560,272 L600,270 L600,285 C570,285 530,292 498,312 Z" fill="#676767" opacity="0.8"/>
<path d="M498,355 L545,358 L548,436 L498,436 Z" fill="#747474"/>
<path d="M548,368 L590,372 L592,425 L550,428 Z" fill="#5c5c5c"/>
<path d="M580,436 L684,380 L684,398 L610,436 Z" fill="#737373"/>
<path d="M620,436 L684,404 L684,436 Z" fill="#6c6c6c"/>
<path d="M642,268 L684,268 L684,315 C675,298 662,282 642,268 Z" fill="#808080"/>
</g>
<path d="M640,271 C660,282 672,295 682,312" fill="none" stroke="#9a9a9a" stroke-width="2" filter="url(#blur1)"/>
<path d="M499,294 C512,284 528,276 548,270" fill="none" stroke="#8c8c8c" stroke-width="3" filter="url(#blur1)"/>
<g stroke="#929292" stroke-width="0.8" opacity="0.7" filter="url(#blur1)"><line x1="655" y1="270" x2="682" y2="300"/><line x1="664" y1="270" x2="682" y2="292"/><line x1="672" y1="270" x2="682" y2="283"/></g>
<path d="M501,326 C530,328 555,331 577,330 C568,340 560,350 548,354 C530,353 515,349 501,349 Z" fill="#7a7a7a" filter="url(#blur1)"/>
<g fill="none" stroke="#222" stroke-linecap="round" filter="url(#blur1)"><path d="M501.6,323.3 C520,325 540,327.3 567.4,328.9 L577,329.7" stroke-width="1.4"/><path d="M543,327.4 C555,328.5 565,329.4 576,330" stroke-width="3.6"/><path d="M501,349 L520.9,348.2 C526,350 530,352.5 537,353.6 C545,354.6 553,353.5 561,350.6" stroke-width="2.2"/><path d="M582,372 C587,374 591,376 596,379" stroke-width="2"/><path d="M571,384 C575,385.5 580,387 585,389" stroke-width="1.7"/></g>
<g fill="none" stroke="#8c8c8c" stroke-width="1.2" filter="url(#blur1)"><path d="M500,300 C530,285 570,276 620,275"/><path d="M545,360 L560,355 L575,362 L570,400"/><path d="M560,420 C600,425 640,418 682,405"/><path d="M505,352 C520,351 535,356 548,356.5 C556,356 562,352 572,338.5"/></g>
<rect x="500.3" y="269.9" width="181.7" height="165.1" fill="#000" filter="url(#noise)" opacity="0.14"/>
</g>
<rect x="500.3" y="254" width="181.7" height="15.9" fill="#f678a8"/>
<text x="592.2" y="266" font-size="11.6" text-anchor="middle" fill="#fff">0 T after cycling</text>
<ellipse cx="551" cy="333.4" rx="44.5" ry="22.6" fill="none" stroke="#f0aa30" stroke-width="2" stroke-dasharray="12.5 6.3" stroke-dashoffset="3" transform="rotate(3 551 333.4)"/>
<line x1="611.1" y1="300.7" x2="656.5" y2="382.5" stroke="#f0a522" stroke-width="1.6"/>
<polygon points="660.2,388.5 649.4,380.2 658.6,374.8" fill="#f0a522"/>
<text x="503.3" y="403.6" font-size="13.2" fill="#fff">Slide and collapse</text>
<text x="628.8" y="412.6" font-size="11.8" fill="#fff">500 nm</text>
<rect x="616.9" y="418.2" width="60.8" height="3" fill="#fff"/>
<text x="0.2" y="495.4" font-size="15.5" fill="#1a0e0e" font-weight="bold">g</text>
<line x1="97.6" y1="591.4" x2="97.6" y2="781.6" stroke="#9a9a9a" stroke-width="0.9" stroke-dasharray="1.4 1.6"/>
<line x1="147" y1="591.4" x2="147" y2="781.6" stroke="#9a9a9a" stroke-width="0.9" stroke-dasharray="1.4 1.6"/>
<line x1="196.4" y1="591.4" x2="196.4" y2="781.6" stroke="#9a9a9a" stroke-width="0.9" stroke-dasharray="1.4 1.6"/>
<line x1="245.6" y1="591.4" x2="245.6" y2="781.6" stroke="#9a9a9a" stroke-width="0.9" stroke-dasharray="1.4 1.6"/>
<line x1="295.6" y1="591.4" x2="295.6" y2="781.6" stroke="#9a9a9a" stroke-width="0.9" stroke-dasharray="1.4 1.6"/>
<line x1="344.5" y1="591.4" x2="344.5" y2="781.6" stroke="#9a9a9a" stroke-width="0.9" stroke-dasharray="1.4 1.6"/>
<line x1="393.9" y1="591.4" x2="393.9" y2="781.6" stroke="#9a9a9a" stroke-width="0.9" stroke-dasharray="1.4 1.6"/>
<line x1="443.7" y1="591.4" x2="443.7" y2="781.6" stroke="#9a9a9a" stroke-width="0.9" stroke-dasharray="1.4 1.6"/>
<line x1="492.4" y1="591.4" x2="492.4" y2="781.6" stroke="#9a9a9a" stroke-width="0.9" stroke-dasharray="1.4 1.6"/>
<line x1="543" y1="591.4" x2="543" y2="781.6" stroke="#9a9a9a" stroke-width="0.9" stroke-dasharray="1.4 1.6"/>
<line x1="591.5" y1="591.4" x2="591.5" y2="781.6" stroke="#9a9a9a" stroke-width="0.9" stroke-dasharray="1.4 1.6"/>
<line x1="49" y1="645.68" x2="641.1" y2="645.68" stroke="#9a9a9a" stroke-width="0.9" stroke-dasharray="1.4 1.6"/>
<line x1="49" y1="699.96" x2="641.1" y2="699.96" stroke="#9a9a9a" stroke-width="0.9" stroke-dasharray="1.4 1.6"/>
<line x1="49" y1="754.24" x2="641.1" y2="754.24" stroke="#9a9a9a" stroke-width="0.9" stroke-dasharray="1.4 1.6"/>
<rect x="77.8" y="609.9" width="39.6" height="121.6" fill="#1fd5d9"/>
<rect x="176.6" y="611.9" width="39.6" height="116" fill="#1fd5d9"/>
<rect x="275.8" y="611.9" width="39.6" height="118.1" fill="#1fd5d9"/>
<rect x="374.2" y="595.5" width="39.4" height="94.1" fill="#9189da"/>
<rect x="472.9" y="591.7" width="39.4" height="92.1" fill="#9189da"/>
<rect x="571.7" y="598.2" width="39.4" height="92.7" fill="#9189da"/>
<text x="97.4" y="754.3" font-size="11.5" text-anchor="middle">-8.985 eV</text>
<text x="196.4" y="754.3" font-size="11.5" text-anchor="middle">-8.604 eV</text>
<text x="295.9" y="754.3" font-size="11.5" text-anchor="middle">-8.782 eV</text>
<text x="393.9" y="711.2" font-size="11.5" text-anchor="middle">-6.934 eV</text>
<text x="493.1" y="711.2" font-size="11.5" text-anchor="middle">-6.813 eV</text>
<text x="591.8" y="711.2" font-size="11.5" text-anchor="middle">-6.842 eV</text>
<line x1="48.9" y1="590.9" x2="48.9" y2="782.1" stroke="#3a3a3a" stroke-width="1"/>
<line x1="43.7" y1="591.4" x2="48.9" y2="591.4" stroke="#3a3a3a" stroke-width="1"/>
<text x="40.4" y="595.5" font-size="11.5" text-anchor="end">0</text>
<line x1="43.7" y1="645.68" x2="48.9" y2="645.68" stroke="#3a3a3a" stroke-width="1"/>
<text x="40.4" y="649.78" font-size="11.5" text-anchor="end">-4</text>
<line x1="43.7" y1="699.96" x2="48.9" y2="699.96" stroke="#3a3a3a" stroke-width="1"/>
<text x="40.4" y="704.06" font-size="11.5" text-anchor="end">-8</text>
<line x1="43.7" y1="754.24" x2="48.9" y2="754.24" stroke="#3a3a3a" stroke-width="1"/>
<text x="40.4" y="758.34" font-size="11.5" text-anchor="end">-12</text>
<line x1="46.4" y1="618.54" x2="48.9" y2="618.54" stroke="#3a3a3a" stroke-width="1"/>
<line x1="46.4" y1="672.82" x2="48.9" y2="672.82" stroke="#3a3a3a" stroke-width="1"/>
<line x1="46.4" y1="727.1" x2="48.9" y2="727.1" stroke="#3a3a3a" stroke-width="1"/>
<line x1="45.5" y1="781.6" x2="48.9" y2="781.6" stroke="#3a3a3a" stroke-width="1"/>
<text x="0" y="0" font-size="11.5" fill="#111" text-anchor="middle" transform="translate(18.3 678) rotate(-90)">Energy level (eV)</text>
<line x1="641.1" y1="590.9" x2="641.1" y2="782.1" stroke="#ff2a2a" stroke-width="1"/>
<line x1="641.1" y1="604.2" x2="646.3" y2="604.2" stroke="#ff2a2a" stroke-width="1"/>
<text x="649" y="608.3" font-size="11.5" fill="#ff2a2a">-0.4</text>
<line x1="641.1" y1="654.8" x2="646.3" y2="654.8" stroke="#ff2a2a" stroke-width="1"/>
<text x="649" y="658.9" font-size="11.5" fill="#ff2a2a">-0.8</text>
<line x1="641.1" y1="705.4" x2="646.3" y2="705.4" stroke="#ff2a2a" stroke-width="1"/>
<text x="649" y="709.5" font-size="11.5" fill="#ff2a2a">-1.2</text>
<line x1="641.1" y1="756" x2="646.3" y2="756" stroke="#ff2a2a" stroke-width="1"/>
<text x="649" y="760.1" font-size="11.5" fill="#ff2a2a">-1.6</text>
<line x1="641.1" y1="629.5" x2="643.7" y2="629.5" stroke="#ff2a2a" stroke-width="1"/>
<line x1="641.1" y1="680.1" x2="643.7" y2="680.1" stroke="#ff2a2a" stroke-width="1"/>
<line x1="641.1" y1="730.7" x2="643.7" y2="730.7" stroke="#ff2a2a" stroke-width="1"/>
<line x1="641.1" y1="781.6" x2="643.7" y2="781.6" stroke="#ff2a2a" stroke-width="1"/>
<text x="0" y="0" font-size="11.2" fill="#ff2a2a" text-anchor="middle" transform="translate(682.3 682.6) rotate(-90)">Binding energy (eV)</text>
<line x1="196.4" y1="659.86" x2="295.2" y2="638.23" stroke="#ff0000" stroke-width="1"/>
<line x1="492.6" y1="759.8" x2="591.3" y2="729.44" stroke="#ff0000" stroke-width="1"/>
<polygon points="196.4,655.46 200.8,659.86 196.4,664.26 192,659.86" fill="#ff0000"/>
<polygon points="295.2,633.83 299.6,638.23 295.2,642.63 290.8,638.23" fill="#ff0000"/>
<polygon points="492.6,755.4 497,759.8 492.6,764.2 488.2,759.8" fill="#ff0000"/>
<polygon points="591.3,725.04 595.7,729.44 591.3,733.84 586.9,729.44" fill="#ff0000"/>
<text x="196.6" y="675.9" font-size="11.5" text-anchor="middle" fill="#d62e2e">-0.840 eV</text>
<text x="295.8" y="659.3" font-size="11.5" text-anchor="middle" fill="#d62e2e">-0.669 eV</text>
<text x="494.6" y="745.3" font-size="11.5" text-anchor="middle" fill="#d62e2e">-1.630 eV</text>
<text x="591.8" y="748.9" font-size="11.5" text-anchor="middle" fill="#d62e2e">-1.390 eV</text>
<text x="83.8" y="556.1" font-size="11.5" fill="#111">LiPF<tspan font-size="8.6" dy="4.7">6</tspan></text>
<text x="182.7" y="501.1" font-size="11.5" text-anchor="middle">Ordered NCM811</text>
<text x="297.9" y="501.1" font-size="11.5" text-anchor="middle">Disordered NCM811</text>
<text x="394.4" y="757" font-size="11.5" text-anchor="middle">EC</text>
<text x="473.5" y="885" font-size="11.5" text-anchor="middle">Ordered NCM811</text>
<text x="593" y="885" font-size="11.5" text-anchor="middle">Disordered NCM811</text>
<polygon points="138.4,515.5 156.9,515.5 163,530.8 144.5,530.8" fill="#ededed" stroke="#c9c9c9" stroke-width="0.4"/><polygon points="138.4,515.5 144.5,530.8 150.7,523.15" fill="#dfe2e6"/><circle cx="150.7" cy="523.15" r="3.4" fill="url(#aNi)" opacity="0.45"/><polygon points="156.9,515.5 175.4,515.5 181.5,530.8 163,530.8" fill="#ededed" stroke="#c9c9c9" stroke-width="0.4"/><polygon points="156.9,515.5 163,530.8 169.2,523.15" fill="#dfe2e6"/><circle cx="169.2" cy="523.15" r="3.4" fill="url(#aNi)" opacity="0.45"/><polygon points="175.4,515.5 193.9,515.5 200,530.8 181.5,530.8" fill="#ededed" stroke="#c9c9c9" stroke-width="0.4"/><polygon points="175.4,515.5 181.5,530.8 187.7,523.15" fill="#dfe2e6"/><circle cx="187.7" cy="523.15" r="3.4" fill="url(#aNi)" opacity="0.45"/><polygon points="193.9,515.5 212.4,515.5 218.5,530.8 200,530.8" fill="#ededed" stroke="#c9c9c9" stroke-width="0.4"/><polygon points="193.9,515.5 200,530.8 206.2,523.15" fill="#dfe2e6"/><circle cx="206.2" cy="523.15" r="3.4" fill="url(#aNi)" opacity="0.45"/><polygon points="212.4,515.5 230.9,515.5 237,530.8 218.5,530.8" fill="#ededed" stroke="#c9c9c9" stroke-width="0.4"/><polygon points="212.4,515.5 218.5,530.8 224.7,523.15" fill="#dfe2e6"/><circle cx="224.7" cy="523.15" r="3.4" fill="url(#aNi)" opacity="0.45"/><polygon points="144.5,530.8 163,530.8 169.1,549.2 150.6,549.2" fill="#35e4eb" stroke="#28d0d8" stroke-width="0.4"/><polygon points="144.5,530.8 150.6,549.2 156.8,540" fill="#2edce4"/><circle cx="156.8" cy="540" r="3.4" fill="url(#aLi)" opacity="0.3"/><polygon points="163,530.8 181.5,530.8 187.6,549.2 169.1,549.2" fill="#35e4eb" stroke="#28d0d8" stroke-width="0.4"/><polygon points="163,530.8 169.1,549.2 175.3,540" fill="#2edce4"/><circle cx="175.3" cy="540" r="3.4" fill="url(#aLi)" opacity="0.3"/><polygon points="181.5,530.8 200,530.8 206.1,549.2 187.6,549.2" fill="#35e4eb" stroke="#28d0d8" stroke-width="0.4"/><polygon points="181.5,530.8 187.6,549.2 193.8,540" fill="#2edce4"/><circle cx="193.8" cy="540" r="3.4" fill="url(#aLi)" opacity="0.3"/><polygon points="200,530.8 218.5,530.8 224.6,549.2 206.1,549.2" fill="#35e4eb" stroke="#28d0d8" stroke-width="0.4"/><polygon points="200,530.8 206.1,549.2 212.3,540" fill="#2edce4"/><circle cx="212.3" cy="540" r="3.4" fill="url(#aLi)" opacity="0.3"/><polygon points="218.5,530.8 237,530.8 243.1,549.2 224.6,549.2" fill="#35e4eb" stroke="#28d0d8" stroke-width="0.4"/><polygon points="218.5,530.8 224.6,549.2 230.8,540" fill="#2edce4"/><circle cx="230.8" cy="540" r="3.4" fill="url(#aLi)" opacity="0.3"/><polygon points="150.6,549.2 169.1,549.2 175.2,564.6 156.7,564.6" fill="#ededed" stroke="#c9c9c9" stroke-width="0.4"/><polygon points="150.6,549.2 156.7,564.6 162.9,556.9" fill="#dfe2e6"/><circle cx="162.9" cy="556.9" r="3.4" fill="url(#aNi)" opacity="0.45"/><polygon points="169.1,549.2 187.6,549.2 193.7,564.6 175.2,564.6" fill="#ededed" stroke="#c9c9c9" stroke-width="0.4"/><polygon points="169.1,549.2 175.2,564.6 181.4,556.9" fill="#dfe2e6"/><circle cx="181.4" cy="556.9" r="3.4" fill="url(#aNi)" opacity="0.45"/><polygon points="187.6,549.2 206.1,549.2 212.2,564.6 193.7,564.6" fill="#ededed" stroke="#c9c9c9" stroke-width="0.4"/><polygon points="187.6,549.2 193.7,564.6 199.9,556.9" fill="#dfe2e6"/><circle cx="199.9" cy="556.9" r="3.4" fill="url(#aNi)" opacity="0.45"/><polygon points="206.1,549.2 224.6,549.2 230.7,564.6 212.2,564.6" fill="#ededed" stroke="#c9c9c9" stroke-width="0.4"/><polygon points="206.1,549.2 212.2,564.6 218.4,556.9" fill="#dfe2e6"/><circle cx="218.4" cy="556.9" r="3.4" fill="url(#aNi)" opacity="0.45"/><polygon points="224.6,549.2 243.1,549.2 249.2,564.6 230.7,564.6" fill="#ededed" stroke="#c9c9c9" stroke-width="0.4"/><polygon points="224.6,549.2 230.7,564.6 236.9,556.9" fill="#dfe2e6"/><circle cx="236.9" cy="556.9" r="3.4" fill="url(#aNi)" opacity="0.45"/>
<circle cx="138.4" cy="515.5" r="2" fill="url(#aO)" stroke="#b04040" stroke-width="0.35"/>
<circle cx="156.9" cy="515.5" r="2" fill="url(#aO)" stroke="#b04040" stroke-width="0.35"/>
<circle cx="175.4" cy="515.5" r="2" fill="url(#aO)" stroke="#b04040" stroke-width="0.35"/>
<circle cx="193.9" cy="515.5" r="2" fill="url(#aO)" stroke="#b04040" stroke-width="0.35"/>
<circle cx="212.4" cy="515.5" r="2" fill="url(#aO)" stroke="#b04040" stroke-width="0.35"/>
<circle cx="230.9" cy="515.5" r="2" fill="url(#aO)" stroke="#b04040" stroke-width="0.35"/>
<circle cx="144.5" cy="530.8" r="2" fill="url(#aO)" stroke="#b04040" stroke-width="0.35"/>
<circle cx="163" cy="530.8" r="2" fill="url(#aO)" stroke="#b04040" stroke-width="0.35"/>
<circle cx="181.5" cy="530.8" r="2" fill="url(#aO)" stroke="#b04040" stroke-width="0.35"/>
<circle cx="200" cy="530.8" r="2" fill="url(#aO)" stroke="#b04040" stroke-width="0.35"/>
<circle cx="218.5" cy="530.8" r="2" fill="url(#aO)" stroke="#b04040" stroke-width="0.35"/>
<circle cx="237" cy="530.8" r="2" fill="url(#aO)" stroke="#b04040" stroke-width="0.35"/>
<circle cx="150.6" cy="549.2" r="2" fill="url(#aO)" stroke="#b04040" stroke-width="0.35"/>
<circle cx="169.1" cy="549.2" r="2" fill="url(#aO)" stroke="#b04040" stroke-width="0.35"/>
<circle cx="187.6" cy="549.2" r="2" fill="url(#aO)" stroke="#b04040" stroke-width="0.35"/>
<circle cx="206.1" cy="549.2" r="2" fill="url(#aO)" stroke="#b04040" stroke-width="0.35"/>
<circle cx="224.6" cy="549.2" r="2" fill="url(#aO)" stroke="#b04040" stroke-width="0.35"/>
<circle cx="243.1" cy="549.2" r="2" fill="url(#aO)" stroke="#b04040" stroke-width="0.35"/>
<circle cx="156.7" cy="564.6" r="2" fill="url(#aO)" stroke="#b04040" stroke-width="0.35"/>
<circle cx="175.2" cy="564.6" r="2" fill="url(#aO)" stroke="#b04040" stroke-width="0.35"/>
<circle cx="193.7" cy="564.6" r="2" fill="url(#aO)" stroke="#b04040" stroke-width="0.35"/>
<circle cx="212.2" cy="564.6" r="2" fill="url(#aO)" stroke="#b04040" stroke-width="0.35"/>
<circle cx="230.7" cy="564.6" r="2" fill="url(#aO)" stroke="#b04040" stroke-width="0.35"/>
<circle cx="249.2" cy="564.6" r="2" fill="url(#aO)" stroke="#b04040" stroke-width="0.35"/>
<polygon points="245.85,515.5 264.35,515.5 270.45,530.8 251.95,530.8" fill="#ededed" stroke="#c9c9c9" stroke-width="0.4"/><polygon points="245.85,515.5 251.95,530.8 258.15,523.15" fill="#dfe2e6"/><circle cx="258.15" cy="523.15" r="3.4" fill="url(#aNi)" opacity="0.45"/><polygon points="264.35,515.5 282.85,515.5 288.95,530.8 270.45,530.8" fill="#ededed" stroke="#c9c9c9" stroke-width="0.4"/><polygon points="264.35,515.5 270.45,530.8 276.65,523.15" fill="#dfe2e6"/><circle cx="276.65" cy="523.15" r="3.4" fill="url(#aNi)" opacity="0.45"/><polygon points="282.85,515.5 301.35,515.5 307.45,530.8 288.95,530.8" fill="#ededed" stroke="#c9c9c9" stroke-width="0.4"/><polygon points="282.85,515.5 288.95,530.8 295.15,523.15" fill="#dfe2e6"/><circle cx="295.15" cy="523.15" r="3.4" fill="url(#aNi)" opacity="0.45"/><polygon points="301.35,515.5 319.85,515.5 325.95,530.8 307.45,530.8" fill="#ededed" stroke="#c9c9c9" stroke-width="0.4"/><polygon points="301.35,515.5 307.45,530.8 313.65,523.15" fill="#dfe2e6"/><circle cx="313.65" cy="523.15" r="3.4" fill="url(#aNi)" opacity="0.45"/><polygon points="319.85,515.5 338.35,515.5 344.45,530.8 325.95,530.8" fill="#ededed" stroke="#c9c9c9" stroke-width="0.4"/><polygon points="319.85,515.5 325.95,530.8 332.15,523.15" fill="#dfe2e6"/><circle cx="332.15" cy="523.15" r="3.4" fill="url(#aNi)" opacity="0.45"/><polygon points="251.95,530.8 270.45,530.8 276.55,549.2 258.05,549.2" fill="#35e4eb" stroke="#28d0d8" stroke-width="0.4"/><polygon points="251.95,530.8 258.05,549.2 264.25,540" fill="#2edce4"/><circle cx="264.25" cy="540" r="3.4" fill="url(#aLi)" opacity="0.3"/><polygon points="270.45,530.8 288.95,530.8 295.05,549.2 276.55,549.2" fill="#35e4eb" stroke="#28d0d8" stroke-width="0.4"/><polygon points="270.45,530.8 276.55,549.2 282.75,540" fill="#2edce4"/><circle cx="282.75" cy="540" r="3.4" fill="url(#aLi)" opacity="0.3"/><polygon points="288.95,530.8 307.45,530.8 313.55,549.2 295.05,549.2" fill="#35e4eb" stroke="#28d0d8" stroke-width="0.4"/><polygon points="288.95,530.8 295.05,549.2 301.25,540" fill="#2edce4"/><circle cx="301.25" cy="540" r="3.4" fill="url(#aLi)" opacity="0.3"/><polygon points="307.45,530.8 325.95,530.8 332.05,549.2 313.55,549.2" fill="#35e4eb" stroke="#28d0d8" stroke-width="0.4"/><polygon points="307.45,530.8 313.55,549.2 319.75,540" fill="#2edce4"/><circle cx="319.75" cy="540" r="3.4" fill="url(#aLi)" opacity="0.3"/><polygon points="325.95,530.8 344.45,530.8 350.55,549.2 332.05,549.2" fill="#ededed" stroke="#c9c9c9" stroke-width="0.4"/><polygon points="325.95,530.8 332.05,549.2 338.25,540" fill="#dfe2e6"/><circle cx="338.25" cy="540" r="3.4" fill="url(#aNi)" opacity="0.45"/><polygon points="258.05,549.2 276.55,549.2 282.65,564.6 264.15,564.6" fill="#ededed" stroke="#c9c9c9" stroke-width="0.4"/><polygon points="258.05,549.2 264.15,564.6 270.35,556.9" fill="#dfe2e6"/><circle cx="270.35" cy="556.9" r="3.4" fill="url(#aNi)" opacity="0.45"/><polygon points="276.55,549.2 295.05,549.2 301.15,564.6 282.65,564.6" fill="#ededed" stroke="#c9c9c9" stroke-width="0.4"/><polygon points="276.55,549.2 282.65,564.6 288.85,556.9" fill="#dfe2e6"/><circle cx="288.85" cy="556.9" r="3.4" fill="url(#aNi)" opacity="0.45"/><polygon points="295.05,549.2 313.55,549.2 319.65,564.6 301.15,564.6" fill="#ededed" stroke="#c9c9c9" stroke-width="0.4"/><polygon points="295.05,549.2 301.15,564.6 307.35,556.9" fill="#dfe2e6"/><circle cx="307.35" cy="556.9" r="3.4" fill="url(#aNi)" opacity="0.45"/><polygon points="313.55,549.2 332.05,549.2 338.15,564.6 319.65,564.6" fill="#ededed" stroke="#c9c9c9" stroke-width="0.4"/><polygon points="313.55,549.2 319.65,564.6 325.85,556.9" fill="#dfe2e6"/><circle cx="325.85" cy="556.9" r="3.4" fill="url(#aNi)" opacity="0.45"/><polygon points="332.05,549.2 350.55,549.2 356.65,564.6 338.15,564.6" fill="#35e4eb" stroke="#28d0d8" stroke-width="0.4"/><polygon points="332.05,549.2 338.15,564.6 344.35,556.9" fill="#2edce4"/><circle cx="344.35" cy="556.9" r="3.4" fill="url(#aLi)" opacity="0.3"/>
<circle cx="245.85" cy="515.5" r="2" fill="url(#aO)" stroke="#b04040" stroke-width="0.35"/>
<circle cx="264.35" cy="515.5" r="2" fill="url(#aO)" stroke="#b04040" stroke-width="0.35"/>
<circle cx="282.85" cy="515.5" r="2" fill="url(#aO)" stroke="#b04040" stroke-width="0.35"/>
<circle cx="301.35" cy="515.5" r="2" fill="url(#aO)" stroke="#b04040" stroke-width="0.35"/>
<circle cx="319.85" cy="515.5" r="2" fill="url(#aO)" stroke="#b04040" stroke-width="0.35"/>
<circle cx="338.35" cy="515.5" r="2" fill="url(#aO)" stroke="#b04040" stroke-width="0.35"/>
<circle cx="251.95" cy="530.8" r="2" fill="url(#aO)" stroke="#b04040" stroke-width="0.35"/>
<circle cx="270.45" cy="530.8" r="2" fill="url(#aO)" stroke="#b04040" stroke-width="0.35"/>
<circle cx="288.95" cy="530.8" r="2" fill="url(#aO)" stroke="#b04040" stroke-width="0.35"/>
<circle cx="307.45" cy="530.8" r="2" fill="url(#aO)" stroke="#b04040" stroke-width="0.35"/>
<circle cx="325.95" cy="530.8" r="2" fill="url(#aO)" stroke="#b04040" stroke-width="0.35"/>
<circle cx="344.45" cy="530.8" r="2" fill="url(#aO)" stroke="#b04040" stroke-width="0.35"/>
<circle cx="258.05" cy="549.2" r="2" fill="url(#aO)" stroke="#b04040" stroke-width="0.35"/>
<circle cx="276.55" cy="549.2" r="2" fill="url(#aO)" stroke="#b04040" stroke-width="0.35"/>
<circle cx="295.05" cy="549.2" r="2" fill="url(#aO)" stroke="#b04040" stroke-width="0.35"/>
<circle cx="313.55" cy="549.2" r="2" fill="url(#aO)" stroke="#b04040" stroke-width="0.35"/>
<circle cx="332.05" cy="549.2" r="2" fill="url(#aO)" stroke="#b04040" stroke-width="0.35"/>
<circle cx="350.55" cy="549.2" r="2" fill="url(#aO)" stroke="#b04040" stroke-width="0.35"/>
<circle cx="264.15" cy="564.6" r="2" fill="url(#aO)" stroke="#b04040" stroke-width="0.35"/>
<circle cx="282.65" cy="564.6" r="2" fill="url(#aO)" stroke="#b04040" stroke-width="0.35"/>
<circle cx="301.15" cy="564.6" r="2" fill="url(#aO)" stroke="#b04040" stroke-width="0.35"/>
<circle cx="319.65" cy="564.6" r="2" fill="url(#aO)" stroke="#b04040" stroke-width="0.35"/>
<circle cx="338.15" cy="564.6" r="2" fill="url(#aO)" stroke="#b04040" stroke-width="0.35"/>
<circle cx="356.65" cy="564.6" r="2" fill="url(#aO)" stroke="#b04040" stroke-width="0.35"/>
<polygon points="439.9,811 458.5,811 452.2,826.3 433.6,826.3" fill="#ededed" stroke="#c9c9c9" stroke-width="0.4"/><polygon points="439.9,811 433.6,826.3 446.05,818.65" fill="#dfe2e6"/><circle cx="446.05" cy="818.65" r="3.4" fill="url(#aNi)" opacity="0.45"/><polygon points="458.5,811 477.1,811 470.8,826.3 452.2,826.3" fill="#ededed" stroke="#c9c9c9" stroke-width="0.4"/><polygon points="458.5,811 452.2,826.3 464.65,818.65" fill="#dfe2e6"/><circle cx="464.65" cy="818.65" r="3.4" fill="url(#aNi)" opacity="0.45"/><polygon points="477.1,811 495.7,811 489.4,826.3 470.8,826.3" fill="#ededed" stroke="#c9c9c9" stroke-width="0.4"/><polygon points="477.1,811 470.8,826.3 483.25,818.65" fill="#dfe2e6"/><circle cx="483.25" cy="818.65" r="3.4" fill="url(#aNi)" opacity="0.45"/><polygon points="495.7,811 514.3,811 508,826.3 489.4,826.3" fill="#ededed" stroke="#c9c9c9" stroke-width="0.4"/><polygon points="495.7,811 489.4,826.3 501.85,818.65" fill="#dfe2e6"/><circle cx="501.85" cy="818.65" r="3.4" fill="url(#aNi)" opacity="0.45"/><polygon points="514.3,811 532.9,811 526.6,826.3 508,826.3" fill="#ededed" stroke="#c9c9c9" stroke-width="0.4"/><polygon points="514.3,811 508,826.3 520.45,818.65" fill="#dfe2e6"/><circle cx="520.45" cy="818.65" r="3.4" fill="url(#aNi)" opacity="0.45"/><polygon points="433.6,826.3 452.2,826.3 445.9,844.5 427.3,844.5" fill="#35e4eb" stroke="#28d0d8" stroke-width="0.4"/><polygon points="433.6,826.3 427.3,844.5 439.75,835.4" fill="#2edce4"/><circle cx="439.75" cy="835.4" r="3.4" fill="url(#aLi)" opacity="0.3"/><polygon points="452.2,826.3 470.8,826.3 464.5,844.5 445.9,844.5" fill="#35e4eb" stroke="#28d0d8" stroke-width="0.4"/><polygon points="452.2,826.3 445.9,844.5 458.35,835.4" fill="#2edce4"/><circle cx="458.35" cy="835.4" r="3.4" fill="url(#aLi)" opacity="0.3"/><polygon points="470.8,826.3 489.4,826.3 483.1,844.5 464.5,844.5" fill="#35e4eb" stroke="#28d0d8" stroke-width="0.4"/><polygon points="470.8,826.3 464.5,844.5 476.95,835.4" fill="#2edce4"/><circle cx="476.95" cy="835.4" r="3.4" fill="url(#aLi)" opacity="0.3"/><polygon points="489.4,826.3 508,826.3 501.7,844.5 483.1,844.5" fill="#35e4eb" stroke="#28d0d8" stroke-width="0.4"/><polygon points="489.4,826.3 483.1,844.5 495.55,835.4" fill="#2edce4"/><circle cx="495.55" cy="835.4" r="3.4" fill="url(#aLi)" opacity="0.3"/><polygon points="508,826.3 526.6,826.3 520.3,844.5 501.7,844.5" fill="#35e4eb" stroke="#28d0d8" stroke-width="0.4"/><polygon points="508,826.3 501.7,844.5 514.15,835.4" fill="#2edce4"/><circle cx="514.15" cy="835.4" r="3.4" fill="url(#aLi)" opacity="0.3"/><polygon points="427.3,844.5 445.9,844.5 439.6,860.2 421,860.2" fill="#ededed" stroke="#c9c9c9" stroke-width="0.4"/><polygon points="427.3,844.5 421,860.2 433.45,852.35" fill="#dfe2e6"/><circle cx="433.45" cy="852.35" r="3.4" fill="url(#aNi)" opacity="0.45"/><polygon points="445.9,844.5 464.5,844.5 458.2,860.2 439.6,860.2" fill="#ededed" stroke="#c9c9c9" stroke-width="0.4"/><polygon points="445.9,844.5 439.6,860.2 452.05,852.35" fill="#dfe2e6"/><circle cx="452.05" cy="852.35" r="3.4" fill="url(#aNi)" opacity="0.45"/><polygon points="464.5,844.5 483.1,844.5 476.8,860.2 458.2,860.2" fill="#ededed" stroke="#c9c9c9" stroke-width="0.4"/><polygon points="464.5,844.5 458.2,860.2 470.65,852.35" fill="#dfe2e6"/><circle cx="470.65" cy="852.35" r="3.4" fill="url(#aNi)" opacity="0.45"/><polygon points="483.1,844.5 501.7,844.5 495.4,860.2 476.8,860.2" fill="#ededed" stroke="#c9c9c9" stroke-width="0.4"/><polygon points="483.1,844.5 476.8,860.2 489.25,852.35" fill="#dfe2e6"/><circle cx="489.25" cy="852.35" r="3.4" fill="url(#aNi)" opacity="0.45"/><polygon points="501.7,844.5 520.3,844.5 514,860.2 495.4,860.2" fill="#ededed" stroke="#c9c9c9" stroke-width="0.4"/><polygon points="501.7,844.5 495.4,860.2 507.85,852.35" fill="#dfe2e6"/><circle cx="507.85" cy="852.35" r="3.4" fill="url(#aNi)" opacity="0.45"/>
<circle cx="439.9" cy="811" r="2" fill="url(#aO)" stroke="#b04040" stroke-width="0.35"/>
<circle cx="458.5" cy="811" r="2" fill="url(#aO)" stroke="#b04040" stroke-width="0.35"/>
<circle cx="477.1" cy="811" r="2" fill="url(#aO)" stroke="#b04040" stroke-width="0.35"/>
<circle cx="495.7" cy="811" r="2" fill="url(#aO)" stroke="#b04040" stroke-width="0.35"/>
<circle cx="514.3" cy="811" r="2" fill="url(#aO)" stroke="#b04040" stroke-width="0.35"/>
<circle cx="532.9" cy="811" r="2" fill="url(#aO)" stroke="#b04040" stroke-width="0.35"/>
<circle cx="433.6" cy="826.3" r="2" fill="url(#aO)" stroke="#b04040" stroke-width="0.35"/>
<circle cx="452.2" cy="826.3" r="2" fill="url(#aO)" stroke="#b04040" stroke-width="0.35"/>
<circle cx="470.8" cy="826.3" r="2" fill="url(#aO)" stroke="#b04040" stroke-width="0.35"/>
<circle cx="489.4" cy="826.3" r="2" fill="url(#aO)" stroke="#b04040" stroke-width="0.35"/>
<circle cx="508" cy="826.3" r="2" fill="url(#aO)" stroke="#b04040" stroke-width="0.35"/>
<circle cx="526.6" cy="826.3" r="2" fill="url(#aO)" stroke="#b04040" stroke-width="0.35"/>
<circle cx="427.3" cy="844.5" r="2" fill="url(#aO)" stroke="#b04040" stroke-width="0.35"/>
<circle cx="445.9" cy="844.5" r="2" fill="url(#aO)" stroke="#b04040" stroke-width="0.35"/>
<circle cx="464.5" cy="844.5" r="2" fill="url(#aO)" stroke="#b04040" stroke-width="0.35"/>
<circle cx="483.1" cy="844.5" r="2" fill="url(#aO)" stroke="#b04040" stroke-width="0.35"/>
<circle cx="501.7" cy="844.5" r="2" fill="url(#aO)" stroke="#b04040" stroke-width="0.35"/>
<circle cx="520.3" cy="844.5" r="2" fill="url(#aO)" stroke="#b04040" stroke-width="0.35"/>
<circle cx="421" cy="860.2" r="2" fill="url(#aO)" stroke="#b04040" stroke-width="0.35"/>
<circle cx="439.6" cy="860.2" r="2" fill="url(#aO)" stroke="#b04040" stroke-width="0.35"/>
<circle cx="458.2" cy="860.2" r="2" fill="url(#aO)" stroke="#b04040" stroke-width="0.35"/>
<circle cx="476.8" cy="860.2" r="2" fill="url(#aO)" stroke="#b04040" stroke-width="0.35"/>
<circle cx="495.4" cy="860.2" r="2" fill="url(#aO)" stroke="#b04040" stroke-width="0.35"/>
<circle cx="514" cy="860.2" r="2" fill="url(#aO)" stroke="#b04040" stroke-width="0.35"/>
<polygon points="556,811 574.6,811 568.4,826.3 549.8,826.3" fill="#ededed" stroke="#c9c9c9" stroke-width="0.4"/><polygon points="556,811 549.8,826.3 562.2,818.65" fill="#dfe2e6"/><circle cx="562.2" cy="818.65" r="3.4" fill="url(#aNi)" opacity="0.45"/><polygon points="574.6,811 593.2,811 587,826.3 568.4,826.3" fill="#ededed" stroke="#c9c9c9" stroke-width="0.4"/><polygon points="574.6,811 568.4,826.3 580.8,818.65" fill="#dfe2e6"/><circle cx="580.8" cy="818.65" r="3.4" fill="url(#aNi)" opacity="0.45"/><polygon points="593.2,811 611.8,811 605.6,826.3 587,826.3" fill="#ededed" stroke="#c9c9c9" stroke-width="0.4"/><polygon points="593.2,811 587,826.3 599.4,818.65" fill="#dfe2e6"/><circle cx="599.4" cy="818.65" r="3.4" fill="url(#aNi)" opacity="0.45"/><polygon points="611.8,811 630.4,811 624.2,826.3 605.6,826.3" fill="#ededed" stroke="#c9c9c9" stroke-width="0.4"/><polygon points="611.8,811 605.6,826.3 618,818.65" fill="#dfe2e6"/><circle cx="618" cy="818.65" r="3.4" fill="url(#aNi)" opacity="0.45"/><polygon points="630.4,811 649,811 642.8,826.3 624.2,826.3" fill="#ededed" stroke="#c9c9c9" stroke-width="0.4"/><polygon points="630.4,811 624.2,826.3 636.6,818.65" fill="#dfe2e6"/><circle cx="636.6" cy="818.65" r="3.4" fill="url(#aNi)" opacity="0.45"/><polygon points="549.8,826.3 568.4,826.3 562.2,844.5 543.6,844.5" fill="#ededed" stroke="#c9c9c9" stroke-width="0.4"/><polygon points="549.8,826.3 543.6,844.5 556,835.4" fill="#dfe2e6"/><circle cx="556" cy="835.4" r="3.4" fill="url(#aNi)" opacity="0.45"/><polygon points="568.4,826.3 587,826.3 580.8,844.5 562.2,844.5" fill="#35e4eb" stroke="#28d0d8" stroke-width="0.4"/><polygon points="568.4,826.3 562.2,844.5 574.6,835.4" fill="#2edce4"/><circle cx="574.6" cy="835.4" r="3.4" fill="url(#aLi)" opacity="0.3"/><polygon points="587,826.3 605.6,826.3 599.4,844.5 580.8,844.5" fill="#35e4eb" stroke="#28d0d8" stroke-width="0.4"/><polygon points="587,826.3 580.8,844.5 593.2,835.4" fill="#2edce4"/><circle cx="593.2" cy="835.4" r="3.4" fill="url(#aLi)" opacity="0.3"/><polygon points="605.6,826.3 624.2,826.3 618,844.5 599.4,844.5" fill="#35e4eb" stroke="#28d0d8" stroke-width="0.4"/><polygon points="605.6,826.3 599.4,844.5 611.8,835.4" fill="#2edce4"/><circle cx="611.8" cy="835.4" r="3.4" fill="url(#aLi)" opacity="0.3"/><polygon points="624.2,826.3 642.8,826.3 636.6,844.5 618,844.5" fill="#35e4eb" stroke="#28d0d8" stroke-width="0.4"/><polygon points="624.2,826.3 618,844.5 630.4,835.4" fill="#2edce4"/><circle cx="630.4" cy="835.4" r="3.4" fill="url(#aLi)" opacity="0.3"/><polygon points="543.6,844.5 562.2,844.5 556,860.2 537.4,860.2" fill="#35e4eb" stroke="#28d0d8" stroke-width="0.4"/><polygon points="543.6,844.5 537.4,860.2 549.8,852.35" fill="#2edce4"/><circle cx="549.8" cy="852.35" r="3.4" fill="url(#aLi)" opacity="0.3"/><polygon points="562.2,844.5 580.8,844.5 574.6,860.2 556,860.2" fill="#ededed" stroke="#c9c9c9" stroke-width="0.4"/><polygon points="562.2,844.5 556,860.2 568.4,852.35" fill="#dfe2e6"/><circle cx="568.4" cy="852.35" r="3.4" fill="url(#aNi)" opacity="0.45"/><polygon points="580.8,844.5 599.4,844.5 593.2,860.2 574.6,860.2" fill="#ededed" stroke="#c9c9c9" stroke-width="0.4"/><polygon points="580.8,844.5 574.6,860.2 587,852.35" fill="#dfe2e6"/><circle cx="587" cy="852.35" r="3.4" fill="url(#aNi)" opacity="0.45"/><polygon points="599.4,844.5 618,844.5 611.8,860.2 593.2,860.2" fill="#ededed" stroke="#c9c9c9" stroke-width="0.4"/><polygon points="599.4,844.5 593.2,860.2 605.6,852.35" fill="#dfe2e6"/><circle cx="605.6" cy="852.35" r="3.4" fill="url(#aNi)" opacity="0.45"/><polygon points="618,844.5 636.6,844.5 630.4,860.2 611.8,860.2" fill="#ededed" stroke="#c9c9c9" stroke-width="0.4"/><polygon points="618,844.5 611.8,860.2 624.2,852.35" fill="#dfe2e6"/><circle cx="624.2" cy="852.35" r="3.4" fill="url(#aNi)" opacity="0.45"/>
<circle cx="556" cy="811" r="2" fill="url(#aO)" stroke="#b04040" stroke-width="0.35"/>
<circle cx="574.6" cy="811" r="2" fill="url(#aO)" stroke="#b04040" stroke-width="0.35"/>
<circle cx="593.2" cy="811" r="2" fill="url(#aO)" stroke="#b04040" stroke-width="0.35"/>
<circle cx="611.8" cy="811" r="2" fill="url(#aO)" stroke="#b04040" stroke-width="0.35"/>
<circle cx="630.4" cy="811" r="2" fill="url(#aO)" stroke="#b04040" stroke-width="0.35"/>
<circle cx="649" cy="811" r="2" fill="url(#aO)" stroke="#b04040" stroke-width="0.35"/>
<circle cx="549.8" cy="826.3" r="2" fill="url(#aO)" stroke="#b04040" stroke-width="0.35"/>
<circle cx="568.4" cy="826.3" r="2" fill="url(#aO)" stroke="#b04040" stroke-width="0.35"/>
<circle cx="587" cy="826.3" r="2" fill="url(#aO)" stroke="#b04040" stroke-width="0.35"/>
<circle cx="605.6" cy="826.3" r="2" fill="url(#aO)" stroke="#b04040" stroke-width="0.35"/>
<circle cx="624.2" cy="826.3" r="2" fill="url(#aO)" stroke="#b04040" stroke-width="0.35"/>
<circle cx="642.8" cy="826.3" r="2" fill="url(#aO)" stroke="#b04040" stroke-width="0.35"/>
<circle cx="543.6" cy="844.5" r="2" fill="url(#aO)" stroke="#b04040" stroke-width="0.35"/>
<circle cx="562.2" cy="844.5" r="2" fill="url(#aO)" stroke="#b04040" stroke-width="0.35"/>
<circle cx="580.8" cy="844.5" r="2" fill="url(#aO)" stroke="#b04040" stroke-width="0.35"/>
<circle cx="599.4" cy="844.5" r="2" fill="url(#aO)" stroke="#b04040" stroke-width="0.35"/>
<circle cx="618" cy="844.5" r="2" fill="url(#aO)" stroke="#b04040" stroke-width="0.35"/>
<circle cx="636.6" cy="844.5" r="2" fill="url(#aO)" stroke="#b04040" stroke-width="0.35"/>
<circle cx="537.4" cy="860.2" r="2" fill="url(#aO)" stroke="#b04040" stroke-width="0.35"/>
<circle cx="556" cy="860.2" r="2" fill="url(#aO)" stroke="#b04040" stroke-width="0.35"/>
<circle cx="574.6" cy="860.2" r="2" fill="url(#aO)" stroke="#b04040" stroke-width="0.35"/>
<circle cx="593.2" cy="860.2" r="2" fill="url(#aO)" stroke="#b04040" stroke-width="0.35"/>
<circle cx="611.8" cy="860.2" r="2" fill="url(#aO)" stroke="#b04040" stroke-width="0.35"/>
<circle cx="630.4" cy="860.2" r="2" fill="url(#aO)" stroke="#b04040" stroke-width="0.35"/>
<polygon points="99,575 110.1,588.7 96.9,598.6 85.8,585.2" fill="#c25c93"/>
<polygon points="99,575 85.8,585.2 100.4,583.7" fill="#c8679c" stroke="#b05088" stroke-width="0.3"/>
<polygon points="99,575 110.1,588.7 100.4,583.7" fill="#bb5a8f" stroke="#b05088" stroke-width="0.3"/>
<polygon points="96.9,598.6 85.8,585.2 100.4,583.7" fill="#e07fb4" stroke="#b05088" stroke-width="0.3"/>
<polygon points="96.9,598.6 110.1,588.7 100.4,583.7" fill="#d06ea4" stroke="#b05088" stroke-width="0.3"/>
<circle cx="99" cy="575" r="2.1" fill="url(#aF)" stroke="#38b8c0" stroke-width="0.4"/>
<circle cx="85.8" cy="585.2" r="2.1" fill="url(#aF)" stroke="#38b8c0" stroke-width="0.4"/>
<circle cx="110.1" cy="588.7" r="2.1" fill="url(#aF)" stroke="#38b8c0" stroke-width="0.4"/>
<circle cx="96.9" cy="598.6" r="2.1" fill="url(#aF)" stroke="#38b8c0" stroke-width="0.4"/>
<circle cx="100.4" cy="583.7" r="2.1" fill="url(#aF)" stroke="#38b8c0" stroke-width="0.4"/>
<polygon points="180.9,577.8 194.9,587.2 184.7,600.7 170.8,590.8" fill="#c25c93"/>
<polygon points="180.9,577.8 170.8,590.8 183,592.6" fill="#dc74ac" stroke="#b05088" stroke-width="0.3"/>
<polygon points="180.9,577.8 194.9,587.2 183,592.6" fill="#e586bb" stroke="#b05088" stroke-width="0.3"/>
<polygon points="184.7,600.7 170.8,590.8 183,592.6" fill="#b9578c" stroke="#b05088" stroke-width="0.3"/>
<polygon points="184.7,600.7 194.9,587.2 183,592.6" fill="#c66399" stroke="#b05088" stroke-width="0.3"/>
<circle cx="180.9" cy="577.8" r="2.1" fill="url(#aF)" stroke="#38b8c0" stroke-width="0.4"/>
<circle cx="170.8" cy="590.8" r="2.1" fill="url(#aF)" stroke="#38b8c0" stroke-width="0.4"/>
<circle cx="194.9" cy="587.2" r="2.1" fill="url(#aF)" stroke="#38b8c0" stroke-width="0.4"/>
<circle cx="184.7" cy="600.7" r="2.1" fill="url(#aF)" stroke="#38b8c0" stroke-width="0.4"/>
<circle cx="183" cy="592.6" r="2.1" fill="url(#aF)" stroke="#38b8c0" stroke-width="0.4"/>
<polygon points="288.4,578.2 302.7,587.8 292.5,600.7 278.6,590.9" fill="#c25c93"/>
<polygon points="288.4,578.2 278.6,590.9 290.4,592.9" fill="#dc74ac" stroke="#b05088" stroke-width="0.3"/>
<polygon points="288.4,578.2 302.7,587.8 290.4,592.9" fill="#e586bb" stroke="#b05088" stroke-width="0.3"/>
<polygon points="292.5,600.7 278.6,590.9 290.4,592.9" fill="#b9578c" stroke="#b05088" stroke-width="0.3"/>
<polygon points="292.5,600.7 302.7,587.8 290.4,592.9" fill="#c66399" stroke="#b05088" stroke-width="0.3"/>
<circle cx="288.4" cy="578.2" r="2.1" fill="url(#aF)" stroke="#38b8c0" stroke-width="0.4"/>
<circle cx="278.6" cy="590.9" r="2.1" fill="url(#aF)" stroke="#38b8c0" stroke-width="0.4"/>
<circle cx="302.7" cy="587.8" r="2.1" fill="url(#aF)" stroke="#38b8c0" stroke-width="0.4"/>
<circle cx="292.5" cy="600.7" r="2.1" fill="url(#aF)" stroke="#38b8c0" stroke-width="0.4"/>
<circle cx="290.4" cy="592.9" r="2.1" fill="url(#aF)" stroke="#38b8c0" stroke-width="0.4"/>
<line x1="389.2" y1="779.2" x2="393.6" y2="779.4" stroke="#ee9a60" stroke-width="1.6"/><line x1="393.6" y1="779.4" x2="398" y2="779.6" stroke="#ee9a60" stroke-width="1.6"/><line x1="389.2" y1="779.2" x2="387.7" y2="782.95" stroke="#ee9a60" stroke-width="1.6"/><line x1="387.7" y1="782.95" x2="386.2" y2="786.7" stroke="#ee3030" stroke-width="1.6"/><line x1="398" y1="779.6" x2="398.9" y2="784" stroke="#ee9a60" stroke-width="1.6"/><line x1="398.9" y1="784" x2="399.8" y2="788.4" stroke="#ee3030" stroke-width="1.6"/><line x1="386.2" y1="786.7" x2="389.4" y2="789.45" stroke="#ee3030" stroke-width="1.6"/><line x1="389.4" y1="789.45" x2="392.6" y2="792.2" stroke="#ee9a60" stroke-width="1.6"/><line x1="399.8" y1="788.4" x2="396.2" y2="790.3" stroke="#ee3030" stroke-width="1.6"/><line x1="396.2" y1="790.3" x2="392.6" y2="792.2" stroke="#ee9a60" stroke-width="1.6"/><line x1="392.6" y1="792.2" x2="391.95" y2="796.6" stroke="#ee9a60" stroke-width="1.6"/><line x1="391.95" y1="796.6" x2="391.3" y2="801" stroke="#ee3030" stroke-width="1.6"/><line x1="387" y1="775.2" x2="389.2" y2="779.2" stroke="#ddd" stroke-width="1.4"/><line x1="384.6" y1="776.4" x2="389.2" y2="779.2" stroke="#ddd" stroke-width="1.4"/><line x1="401.6" y1="777.2" x2="398" y2="779.6" stroke="#ddd" stroke-width="1.4"/><line x1="399.3" y1="774.4" x2="398" y2="779.6" stroke="#ddd" stroke-width="1.4"/>
<circle cx="387" cy="775.2" r="1.9" fill="url(#aHe)" stroke="#555" stroke-width="0.5"/>
<circle cx="384.6" cy="776.4" r="1.9" fill="url(#aHe)" stroke="#555" stroke-width="0.5"/>
<circle cx="401.6" cy="777.2" r="1.9" fill="url(#aHe)" stroke="#555" stroke-width="0.5"/>
<circle cx="399.3" cy="774.4" r="1.9" fill="url(#aHe)" stroke="#555" stroke-width="0.5"/>
<circle cx="389.2" cy="779.2" r="1.5" fill="url(#aCe)"/>
<circle cx="398" cy="779.6" r="1.5" fill="url(#aCe)"/>
<circle cx="392.6" cy="792.2" r="1.5" fill="url(#aCe)"/>
<circle cx="386.2" cy="786.7" r="2.1" fill="url(#aOr)"/>
<circle cx="399.8" cy="788.4" r="2.1" fill="url(#aOr)"/>
<circle cx="391.3" cy="801" r="2.1" fill="url(#aOr)"/>
<line x1="482.8" y1="779.7" x2="487.2" y2="779.9" stroke="#ee9a60" stroke-width="1.6"/><line x1="487.2" y1="779.9" x2="491.6" y2="780.1" stroke="#ee9a60" stroke-width="1.6"/><line x1="482.8" y1="779.7" x2="481.3" y2="783.45" stroke="#ee9a60" stroke-width="1.6"/><line x1="481.3" y1="783.45" x2="479.8" y2="787.2" stroke="#ee3030" stroke-width="1.6"/><line x1="491.6" y1="780.1" x2="492.5" y2="784.5" stroke="#ee9a60" stroke-width="1.6"/><line x1="492.5" y1="784.5" x2="493.4" y2="788.9" stroke="#ee3030" stroke-width="1.6"/><line x1="479.8" y1="787.2" x2="483" y2="789.95" stroke="#ee3030" stroke-width="1.6"/><line x1="483" y1="789.95" x2="486.2" y2="792.7" stroke="#ee9a60" stroke-width="1.6"/><line x1="493.4" y1="788.9" x2="489.8" y2="790.8" stroke="#ee3030" stroke-width="1.6"/><line x1="489.8" y1="790.8" x2="486.2" y2="792.7" stroke="#ee9a60" stroke-width="1.6"/><line x1="486.2" y1="792.7" x2="485.55" y2="797.1" stroke="#ee9a60" stroke-width="1.6"/><line x1="485.55" y1="797.1" x2="484.9" y2="801.5" stroke="#ee3030" stroke-width="1.6"/><line x1="480.6" y1="775.7" x2="482.8" y2="779.7" stroke="#ddd" stroke-width="1.4"/><line x1="478.2" y1="776.9" x2="482.8" y2="779.7" stroke="#ddd" stroke-width="1.4"/><line x1="495.2" y1="777.7" x2="491.6" y2="780.1" stroke="#ddd" stroke-width="1.4"/><line x1="492.9" y1="774.9" x2="491.6" y2="780.1" stroke="#ddd" stroke-width="1.4"/>
<circle cx="480.6" cy="775.7" r="1.9" fill="url(#aHe)" stroke="#555" stroke-width="0.5"/>
<circle cx="478.2" cy="776.9" r="1.9" fill="url(#aHe)" stroke="#555" stroke-width="0.5"/>
<circle cx="495.2" cy="777.7" r="1.9" fill="url(#aHe)" stroke="#555" stroke-width="0.5"/>
<circle cx="492.9" cy="774.9" r="1.9" fill="url(#aHe)" stroke="#555" stroke-width="0.5"/>
<circle cx="482.8" cy="779.7" r="1.5" fill="url(#aCe)"/>
<circle cx="491.6" cy="780.1" r="1.5" fill="url(#aCe)"/>
<circle cx="486.2" cy="792.7" r="1.5" fill="url(#aCe)"/>
<circle cx="479.8" cy="787.2" r="2.1" fill="url(#aOr)"/>
<circle cx="493.4" cy="788.9" r="2.1" fill="url(#aOr)"/>
<circle cx="484.9" cy="801.5" r="2.1" fill="url(#aOr)"/>
<line x1="595.6" y1="779.7" x2="600" y2="779.9" stroke="#ee9a60" stroke-width="1.6"/><line x1="600" y1="779.9" x2="604.4" y2="780.1" stroke="#ee9a60" stroke-width="1.6"/><line x1="595.6" y1="779.7" x2="594.1" y2="783.45" stroke="#ee9a60" stroke-width="1.6"/><line x1="594.1" y1="783.45" x2="592.6" y2="787.2" stroke="#ee3030" stroke-width="1.6"/><line x1="604.4" y1="780.1" x2="605.3" y2="784.5" stroke="#ee9a60" stroke-width="1.6"/><line x1="605.3" y1="784.5" x2="606.2" y2="788.9" stroke="#ee3030" stroke-width="1.6"/><line x1="592.6" y1="787.2" x2="595.8" y2="789.95" stroke="#ee3030" stroke-width="1.6"/><line x1="595.8" y1="789.95" x2="599" y2="792.7" stroke="#ee9a60" stroke-width="1.6"/><line x1="606.2" y1="788.9" x2="602.6" y2="790.8" stroke="#ee3030" stroke-width="1.6"/><line x1="602.6" y1="790.8" x2="599" y2="792.7" stroke="#ee9a60" stroke-width="1.6"/><line x1="599" y1="792.7" x2="598.35" y2="797.1" stroke="#ee9a60" stroke-width="1.6"/><line x1="598.35" y1="797.1" x2="597.7" y2="801.5" stroke="#ee3030" stroke-width="1.6"/><line x1="593.4" y1="775.7" x2="595.6" y2="779.7" stroke="#ddd" stroke-width="1.4"/><line x1="591" y1="776.9" x2="595.6" y2="779.7" stroke="#ddd" stroke-width="1.4"/><line x1="608" y1="777.7" x2="604.4" y2="780.1" stroke="#ddd" stroke-width="1.4"/><line x1="605.7" y1="774.9" x2="604.4" y2="780.1" stroke="#ddd" stroke-width="1.4"/>
<circle cx="593.4" cy="775.7" r="1.9" fill="url(#aHe)" stroke="#555" stroke-width="0.5"/>
<circle cx="591" cy="776.9" r="1.9" fill="url(#aHe)" stroke="#555" stroke-width="0.5"/>
<circle cx="608" cy="777.7" r="1.9" fill="url(#aHe)" stroke="#555" stroke-width="0.5"/>
<circle cx="605.7" cy="774.9" r="1.9" fill="url(#aHe)" stroke="#555" stroke-width="0.5"/>
<circle cx="595.6" cy="779.7" r="1.5" fill="url(#aCe)"/>
<circle cx="604.4" cy="780.1" r="1.5" fill="url(#aCe)"/>
<circle cx="599" cy="792.7" r="1.5" fill="url(#aCe)"/>
<circle cx="592.6" cy="787.2" r="2.1" fill="url(#aOr)"/>
<circle cx="606.2" cy="788.9" r="2.1" fill="url(#aOr)"/>
<circle cx="597.7" cy="801.5" r="2.1" fill="url(#aOr)"/>
<circle cx="70.8" cy="840" r="7" fill="url(#aLi)"/>
<text x="83.7" y="844.1" font-size="11.5">Li</text>
<circle cx="113.5" cy="840" r="6" fill="url(#aNi)"/>
<text x="124" y="844.1" font-size="11.5">Ni</text>
<circle cx="150.7" cy="840" r="3.9" fill="url(#aO)"/>
<text x="160.8" y="844.1" font-size="11.5">O</text>
<circle cx="182.5" cy="840" r="4.2" fill="url(#aF)"/>
<text x="191" y="844.1" font-size="11.5">F</text>
<circle cx="211.6" cy="840" r="5.3" fill="url(#aP)"/>
<text x="221" y="844.1" font-size="11.5">P</text>
<circle cx="239.7" cy="840" r="4.2" fill="url(#aC)"/>
<text x="248.8" y="844.1" font-size="11.5">C</text>
<circle cx="269" cy="840" r="3.5" fill="url(#aH)"/>
<text x="277.5" y="844.1" font-size="11.5">H</text></svg>
</body></html>
